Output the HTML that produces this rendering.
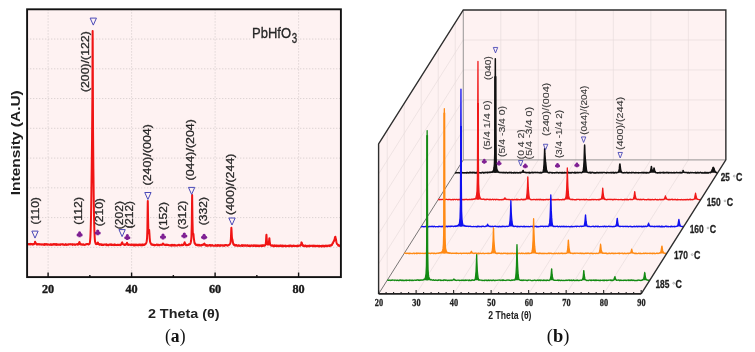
<!DOCTYPE html>
<html><head><meta charset="utf-8"><title>XRD patterns</title>
<style>html,body{margin:0;padding:0;background:#fff;}body{width:755px;height:352px;overflow:hidden;font-family:"Liberation Sans",sans-serif;}svg{display:block;will-change:transform;}</style>
</head><body>
<svg width="755" height="352" viewBox="0 0 755 352"><rect x="27.1" y="9.3" width="313.8" height="267.8" fill="#fef2f2"/>
<path d="M48.1 9.3V277.1M131.6 9.3V277.1M215.1 9.3V277.1M298.6 9.3V277.1M27.1 39.06H340.9M27.1 68.81H340.9M27.1 98.57H340.9M27.1 128.32H340.9M27.1 158.08H340.9M27.1 187.83H340.9M27.1 217.59H340.9M27.1 247.34H340.9" stroke="#cfc6c6" stroke-width="0.8" stroke-dasharray="1.2 1.8" fill="none"/>
<polyline points="28.1,244.18 28.43,244.03 28.76,244.48 29.09,243.96 29.43,244.37 29.76,244.22 30.09,243.94 30.42,244.35 30.75,243.92 31.08,244.27 31.41,243.94 31.74,243.96 32.08,244.25 32.41,244.6 32.74,243.95 33.07,244.01 33.4,244.32 33.73,244.53 34.06,244.06 34.4,243.6 34.73,243.5 35.06,241.77 35.16,242.41 35.39,242.31 35.72,243.06 36.05,243.5 36.38,243.9 36.72,244.47 37.05,243.96 37.38,244.37 37.71,244.45 38.04,244.23 38.37,244.4 38.7,243.97 39.03,243.98 39.37,244.12 39.7,244.55 40.03,244.33 40.36,244.23 40.69,244.48 41.02,244.37 41.35,244.23 41.69,244.68 42.02,244.6 42.35,244.19 42.68,244.49 43.01,244.45 43.34,244.77 43.67,244.64 44,244.25 44.34,244.87 44.67,244.1 45,244.37 45.33,244.68 45.66,244.13 45.99,244.44 46.32,244.04 46.66,244.61 46.99,244.69 47.32,244.52 47.65,244.8 47.98,244.3 48.31,244.64 48.64,244.55 48.98,244.54 49.31,244.43 49.64,244.78 49.97,244.88 50.3,244.45 50.63,244.63 50.96,244.09 51.29,244.66 51.63,244.62 51.96,244.93 52.29,244.78 52.62,244.3 52.95,244.39 53.28,244.65 53.61,244.07 53.95,244.46 54.28,244.2 54.61,244.16 54.94,244.11 55.27,244.75 55.6,244.17 55.93,244.28 56.26,244.41 56.6,244.85 56.93,244.14 57.26,244.47 57.59,244.56 57.92,244.86 58.25,244.81 58.58,244.85 58.92,244.33 59.25,244.45 59.58,244.4 59.91,244.88 60.24,244.94 60.57,244.22 60.9,244.24 61.23,244.3 61.57,244.3 61.9,244.53 62.23,244.62 62.56,244.33 62.89,244.1 63.22,244.47 63.55,244.43 63.89,244.61 64.22,244.96 64.55,244.72 64.88,244.57 65.21,244.66 65.54,244.72 65.87,244.16 66.21,244.92 66.54,244.81 66.87,244.9 67.2,244.83 67.53,244.47 67.86,244.48 68.19,244.21 68.52,244.69 68.86,244.18 69.19,244.18 69.52,244.31 69.85,244.27 70.18,244.43 70.51,244.17 70.84,244.13 71.18,244.26 71.51,244.22 71.84,244.45 72.17,244.15 72.5,244.91 72.83,244.68 73.16,244.26 73.49,244.35 73.83,244.44 74.16,244.45 74.49,244.23 74.82,244.88 75.15,245.01 75.48,244.53 75.81,244.54 76.15,244.17 76.48,244.18 76.81,244.37 77.14,244.28 77.47,244.75 77.8,244.09 78.13,243.86 78.47,244.5 78.8,243.71 79.13,242.54 79.41,242.33 79.46,241.89 79.79,243.15 80.12,244.26 80.45,244.48 80.78,244.49 81.12,244.19 81.45,244.33 81.78,244.18 82.11,244.74 82.44,244.54 82.77,244.77 83.1,244.36 83.44,244.27 83.77,244.79 84.1,244.94 84.43,244.82 84.76,244.77 85.09,244.77 85.42,244.68 85.75,244.2 86.09,244.45 86.42,244.28 86.75,243.95 87.08,243.92 87.41,244.1 87.74,244.04 88.07,244.37 88.41,244.53 88.74,243.97 89.07,244.25 89.4,244 89.73,243.29 90.06,241.08 90.39,237.07 90.73,229.12 91.06,215.02 91.39,193.93 91.72,167.83 92.05,139.17 92.38,96.92 92.52,57.76 92.61,34.41 92.65,31.06 92.71,41.46 93.04,130.42 93.38,168.72 93.71,196.58 94.04,217.32 94.37,230.42 94.7,237.51 95.03,241.57 95.36,242.67 95.7,243.7 96.03,244.11 96.36,243.68 96.69,243.67 97.02,244.02 97.35,243.48 97.68,242.59 97.78,242.53 98.01,242.77 98.35,243.98 98.68,244.26 99.01,243.88 99.34,244.62 99.67,244.84 100,244.61 100.33,244.38 100.67,244.59 101,244.24 101.33,244.16 101.66,245.04 101.99,244.77 102.32,244.67 102.65,245.05 102.99,244.61 103.32,245.02 103.65,244.99 103.98,244.44 104.31,244.49 104.64,244.53 104.97,244.49 105.3,244.81 105.64,244.52 105.97,244.67 106.3,244.41 106.63,245.12 106.96,244.62 107.29,244.72 107.62,244.84 107.96,245.13 108.29,244.7 108.62,245.15 108.95,244.78 109.28,244.81 109.61,244.81 109.94,244.36 110.27,244.74 110.61,244.51 110.94,244.35 111.27,245.07 111.6,244.51 111.93,244.78 112.26,245.01 112.59,244.86 112.93,244.66 113.26,244.83 113.59,244.87 113.92,245.08 114.25,244.47 114.58,244.88 114.91,244.6 115.24,244.63 115.58,245.07 115.91,244.84 116.24,244.88 116.57,245.06 116.9,245.2 117.23,244.78 117.56,244.93 117.9,244.83 118.23,244.83 118.56,244.98 118.89,244.76 119.22,244.82 119.55,244.75 119.88,245.13 120.22,244.86 120.55,244.94 120.88,244.85 121.21,243.94 121.54,243.56 121.87,242.92 122,242.68 122.2,242.4 122.53,243.37 122.87,244.19 123.2,244.11 123.53,244.38 123.86,244.3 124.19,244.87 124.52,244.99 124.85,245.09 125.19,244.4 125.52,244.85 125.85,244.7 126.18,244.02 126.51,244.22 126.84,243.51 127.01,242.64 127.17,243.5 127.5,243.8 127.84,244.36 128.17,245.03 128.5,245.01 128.83,244.47 129.16,244.75 129.49,244.86 129.82,244.72 130.16,244.6 130.49,244.72 130.82,245.09 131.15,244.47 131.48,244.96 131.81,244.86 132.14,244.48 132.48,244.77 132.81,245.03 133.14,244.94 133.47,244.54 133.8,245.37 134.13,245.19 134.46,245.36 134.79,244.58 135.13,244.72 135.46,244.52 135.79,245.19 136.12,244.73 136.45,244.6 136.78,244.87 137.11,245.31 137.45,245.22 137.78,244.72 138.11,244.62 138.44,245.31 138.77,244.99 139.1,245.1 139.43,244.55 139.76,244.52 140.1,245.08 140.43,244.84 140.76,244.51 141.09,245.28 141.42,245 141.75,245.13 142.08,244.47 142.42,245.15 142.75,244.42 143.08,245.11 143.41,244.7 143.74,244.56 144.07,244.7 144.4,244.96 144.74,244.28 145.07,244.03 145.4,244.22 145.73,243.7 146.06,243.19 146.39,242.56 146.72,241.18 147.05,238.37 147.39,229.64 147.72,203.77 147.8,200.91 148.05,217.87 148.38,232.5 148.71,233.33 149.04,230.31 149.14,229.88 149.37,232.99 149.71,238.07 150.04,241.54 150.37,242.76 150.7,243.17 151.03,243.87 151.36,244.57 151.69,244.01 152.02,244.79 152.36,244.54 152.69,244.68 153.02,245.04 153.35,244.69 153.68,244.84 154.01,245.03 154.34,245.32 154.68,244.77 155.01,245.23 155.34,245.13 155.67,245.08 156,244.89 156.33,244.85 156.66,244.59 157,244.67 157.33,244.62 157.66,245.23 157.99,244.8 158.32,244.72 158.65,244.65 158.98,245.33 159.31,245.36 159.65,245.17 159.98,244.82 160.31,244.77 160.64,244.8 160.97,244.92 161.3,244.59 161.63,244.76 161.97,244.44 162.3,244.76 162.63,244.29 162.91,243.66 162.96,243.39 163.29,244.44 163.62,244.29 163.95,244.6 164.28,244.42 164.62,244.85 164.95,244.98 165.28,245.04 165.61,244.79 165.94,245.08 166.27,244.65 166.6,244.89 166.94,244.74 167.27,245.03 167.6,244.71 167.93,244.7 168.26,244.96 168.59,244.9 168.92,245.22 169.25,245.18 169.59,245.38 169.92,245.3 170.25,245.35 170.58,245.5 170.91,245.06 171.24,245.01 171.57,245.6 171.91,244.85 172.24,245.37 172.57,245.3 172.9,244.77 173.23,245.48 173.56,245.53 173.89,245.3 174.23,245.39 174.56,245.46 174.89,244.86 175.22,245.21 175.55,245.19 175.88,245.49 176.21,245.46 176.54,245.48 176.88,245.26 177.21,245.54 177.54,245.35 177.87,245.36 178.2,244.94 178.53,244.76 178.86,244.85 179.2,245.06 179.53,244.82 179.86,245.48 180.19,245.22 180.52,245.28 180.85,245.27 181.18,245.31 181.51,245.13 181.85,244.67 182.18,245.36 182.51,245.28 182.84,245.01 183.17,244.95 183.5,244.91 183.83,244.07 184.17,244.02 184.5,242.59 184.62,242.28 184.83,242.81 185.16,244.19 185.49,244.25 185.82,244.97 186.15,245.29 186.49,244.92 186.82,244.84 187.15,244.93 187.48,245.1 187.81,245.15 188.14,244.97 188.47,244.94 188.8,244.36 189.14,244.31 189.47,244.26 189.8,244.5 190.13,243.79 190.46,243.53 190.79,242.18 191.12,240.54 191.46,236.7 191.79,224.31 192.12,195.18 192.14,194.91 192.45,219.61 192.78,232.46 193.11,233.91 193.39,233.97 193.44,233.92 193.77,237.78 194.11,240.19 194.44,242.67 194.77,243.62 195.1,243.39 195.43,244.16 195.76,244.74 196.09,245.05 196.43,244.71 196.76,244.64 197.09,244.67 197.42,245.39 197.75,244.77 198.08,245.15 198.41,244.78 198.75,245.15 199.08,245.56 199.41,244.84 199.74,245.47 200.07,245.21 200.4,245.55 200.73,245.39 201.06,244.97 201.4,245.57 201.73,245.19 202.06,244.76 202.39,244.7 202.72,245.09 203.05,244.95 203.38,244.63 203.72,244.13 204.05,243.83 204.24,243.68 204.38,244.21 204.71,243.93 205.04,245 205.37,245.31 205.7,244.79 206.03,245.59 206.37,245.44 206.7,245.64 207.03,245.12 207.36,245.21 207.69,245.24 208.02,245.8 208.35,245.44 208.69,245.24 209.02,245.31 209.35,245.17 209.68,244.98 210.01,245.03 210.34,245.69 210.67,245.2 211,245.79 211.34,245.18 211.67,245.2 212,245.42 212.33,245.13 212.66,245.3 212.99,245.83 213.32,245.77 213.66,245.71 213.99,245.55 214.32,245.8 214.65,245.83 214.98,245.48 215.31,245.63 215.64,245.03 215.98,245.65 216.31,245.4 216.64,245.67 216.97,245.58 217.3,245.26 217.63,245.04 217.96,245.84 218.29,245.12 218.63,245.43 218.96,245.32 219.29,245.27 219.62,245.67 219.95,245.89 220.28,245.24 220.61,245.6 220.95,245.28 221.28,245.51 221.61,245.37 221.94,245.16 222.27,245.16 222.6,245.2 222.93,245.82 223.26,245.45 223.6,245.2 223.93,245.82 224.26,245.89 224.59,245.4 224.92,245.11 225.25,245.15 225.58,245.05 225.92,245.27 226.25,245.03 226.58,245.15 226.91,245.15 227.24,245.41 227.57,245.66 227.9,245.5 228.24,245.14 228.57,245.07 228.9,245.08 229.23,244.8 229.56,244.55 229.89,243.94 230.22,243.47 230.55,242.72 230.89,238.56 231.22,230.68 231.38,227.87 231.55,230.56 231.88,237.05 232.21,239.1 232.43,239.61 232.54,240.21 232.87,242.01 233.21,243.81 233.54,244.48 233.87,244.93 234.2,244.43 234.53,244.61 234.86,245.34 235.19,245.59 235.52,245.28 235.86,245.43 236.19,244.94 236.52,245.32 236.85,245.83 237.18,245.76 237.51,245.8 237.84,245.92 238.18,245.28 238.51,245.17 238.84,245.22 239.17,245.56 239.5,245.71 239.83,245.95 240.16,245.76 240.5,245.7 240.83,245.81 241.16,245.54 241.49,245.63 241.82,245.17 242.15,245.84 242.48,245.35 242.81,245.98 243.15,245.73 243.48,245.43 243.81,245.27 244.14,245.39 244.47,245.74 244.8,245.8 245.13,245.27 245.47,245.24 245.8,245.65 246.13,245.71 246.46,245.53 246.79,245.39 247.12,245.73 247.45,245.2 247.78,245.46 248.12,245.61 248.45,246.06 248.78,245.78 249.11,246 249.44,245.63 249.77,245.42 250.1,245.43 250.44,246.08 250.77,245.85 251.1,245.49 251.43,245.24 251.76,245.67 252.09,245.83 252.42,245.6 252.76,245.46 253.09,245.83 253.42,246.06 253.75,245.43 254.08,245.26 254.41,245.54 254.74,245.61 255.07,245.85 255.41,245.42 255.74,245.96 256.07,245.91 256.4,245.7 256.73,245.43 257.06,246.12 257.39,245.52 257.73,245.98 258.06,245.45 258.39,245.44 258.72,245.93 259.05,245.51 259.38,246.1 259.71,245.69 260.04,245.41 260.38,245.44 260.71,245.61 261.04,245.83 261.37,246.08 261.7,245.35 262.03,245.57 262.36,245.39 262.7,246.07 263.03,245.3 263.36,245.19 263.69,245.17 264.02,245.42 264.35,245.8 264.68,245.67 265.01,245.34 265.35,245.21 265.68,244.31 266.01,241.44 266.34,235.22 266.45,234.75 266.67,237.96 267,242.14 267.33,244.27 267.67,244.54 268,244.66 268.33,244.45 268.66,243.66 268.99,241.58 269.32,238.28 269.38,238.21 269.65,241.37 269.99,243.35 270.32,245.13 270.65,244.88 270.98,245.23 271.31,245.77 271.64,245.85 271.97,245.56 272.3,245.25 272.64,245.66 272.97,245.59 273.3,246.1 273.63,245.46 273.96,245.63 274.29,246.12 274.62,245.34 274.96,245.69 275.29,246.06 275.62,246.03 275.95,245.38 276.28,245.38 276.61,245.41 276.94,246.18 277.27,245.59 277.61,246.04 277.94,246.18 278.27,245.68 278.6,245.62 278.93,246.24 279.26,245.94 279.59,245.62 279.93,246.03 280.26,245.67 280.59,245.64 280.92,245.4 281.25,246.08 281.58,246.23 281.91,245.97 282.25,246.25 282.58,245.43 282.91,245.62 283.24,245.84 283.57,246.28 283.9,246.28 284.23,245.77 284.56,245.65 284.9,245.81 285.23,245.87 285.56,246.26 285.89,245.59 286.22,246.15 286.55,246.1 286.88,246.18 287.22,246.13 287.55,245.99 287.88,245.74 288.21,245.73 288.54,245.77 288.87,246.15 289.2,245.52 289.53,245.63 289.87,246.13 290.2,245.68 290.53,245.51 290.86,245.49 291.19,245.96 291.52,245.75 291.85,246.34 292.19,246.26 292.52,246.35 292.85,245.7 293.18,245.54 293.51,245.55 293.84,245.92 294.17,246.11 294.51,245.87 294.84,245.68 295.17,245.84 295.5,246.03 295.83,246.07 296.16,246.14 296.49,246.23 296.82,246.06 297.16,245.56 297.49,246.21 297.82,245.71 298.15,245.94 298.48,245.75 298.81,246.06 299.14,245.54 299.48,245.54 299.81,245.47 300.14,245.26 300.47,245.7 300.8,244.98 301.13,243.81 301.46,242.37 301.61,242.62 301.79,242.66 302.13,243.91 302.46,245.28 302.79,245.54 303.12,246.05 303.45,245.37 303.78,245.78 304.11,246.13 304.45,246.19 304.78,246.28 305.11,245.51 305.44,245.75 305.77,245.6 306.1,245.68 306.43,246.39 306.77,246.04 307.1,246.36 307.43,245.87 307.76,246.31 308.09,245.94 308.42,245.78 308.75,246.25 309.08,246.4 309.42,245.65 309.75,246.09 310.08,246.12 310.41,245.76 310.74,245.89 311.07,245.69 311.4,245.75 311.74,245.8 312.07,246.11 312.4,246.16 312.73,245.76 313.06,245.59 313.39,245.87 313.72,246.19 314.05,245.75 314.39,245.86 314.72,245.77 315.05,246.3 315.38,246.08 315.71,245.64 316.04,245.68 316.37,245.95 316.71,246.09 317.04,246.17 317.37,245.67 317.7,245.74 318.03,246.22 318.36,245.96 318.69,245.85 319.02,245.87 319.36,246.45 319.69,245.87 320.02,246.1 320.35,245.91 320.68,245.97 321.01,246.37 321.34,246.49 321.68,245.92 322.01,245.76 322.34,246.24 322.67,245.77 323,245.59 323.33,246.39 323.66,245.95 324,246.31 324.33,245.93 324.66,246.35 324.99,245.97 325.32,245.69 325.65,245.55 325.98,246.02 326.31,246.09 326.65,246.32 326.98,245.57 327.31,246.03 327.64,245.79 327.97,245.89 328.3,245.54 328.63,245.63 328.97,245.81 329.3,246.12 329.63,245.33 329.96,245.61 330.29,245.81 330.62,245.85 330.95,245.02 331.28,244.78 331.62,245.28 331.95,245 332.28,244.13 332.61,243.18 332.94,243.26 333.27,241.98 333.6,241.74 333.67,241.36 333.94,241.12 334.27,239.93 334.6,239.48 334.93,237.53 335.26,236.72 335.34,237.12 335.59,237.88 335.92,239.29 336.26,241.21 336.59,242.72 336.92,243.73 337.25,244.21 337.58,244.39 337.91,244.8 338.24,245.45 338.57,245.77 338.91,245.12 339.24,245.69 339.57,245.95 339.9,245.36" fill="none" stroke="#f01414" stroke-width="2.0" stroke-linejoin="round"/>
<rect x="27.1" y="9.3" width="313.8" height="267.8" fill="none" stroke="#111" stroke-width="1.9"/>
<path d="M48.1 277.1V272.5M89.85 277.1V274.9M131.6 277.1V272.5M173.35 277.1V274.9M215.1 277.1V272.5M256.85 277.1V274.9M298.6 277.1V272.5" stroke="#111" stroke-width="1.4"/>
<text x="48.1" y="293.4" font-family="Liberation Serif" font-size="13.3" font-weight="bold" fill="#1a1a1a" text-anchor="middle" textLength="12.2" lengthAdjust="spacingAndGlyphs" stroke="#1a1a1a" stroke-width="0.4">20</text>
<text x="131.6" y="293.4" font-family="Liberation Serif" font-size="13.3" font-weight="bold" fill="#1a1a1a" text-anchor="middle" textLength="12.2" lengthAdjust="spacingAndGlyphs" stroke="#1a1a1a" stroke-width="0.4">40</text>
<text x="215.1" y="293.4" font-family="Liberation Serif" font-size="13.3" font-weight="bold" fill="#1a1a1a" text-anchor="middle" textLength="12.2" lengthAdjust="spacingAndGlyphs" stroke="#1a1a1a" stroke-width="0.4">60</text>
<text x="298.6" y="293.4" font-family="Liberation Serif" font-size="13.3" font-weight="bold" fill="#1a1a1a" text-anchor="middle" textLength="12.2" lengthAdjust="spacingAndGlyphs" stroke="#1a1a1a" stroke-width="0.4">80</text>
<text x="147.9" y="318.2" font-family="Liberation Sans" font-size="12.6" font-weight="bold" fill="#222" text-anchor="start" textLength="71.6" lengthAdjust="spacingAndGlyphs">2 Theta (θ)</text>
<text transform="translate(20.4 195.2) rotate(-90)" font-family="Liberation Sans" font-size="12.8" font-weight="bold" fill="#1e1e1e" textLength="105" lengthAdjust="spacingAndGlyphs">Intensity (A.U)</text>
<text x="165" y="342" font-family="Liberation Serif" font-size="18.5" fill="#111" textLength="20.5" lengthAdjust="spacingAndGlyphs">(<tspan font-weight="bold">a</tspan>)</text>
<rect x="251.5" y="26" width="46" height="17.5" fill="#fef2f2"/>
<text x="252" y="38.3" font-family="Liberation Sans" font-size="14.4" font-weight="normal" fill="#262626" text-anchor="start" textLength="39" lengthAdjust="spacingAndGlyphs" stroke="#262626" stroke-width="0.3">PbHfO</text>
<text x="291.8" y="42.8" font-family="Liberation Sans" font-size="14.2" font-weight="normal" fill="#262626" text-anchor="start" textLength="5.4" lengthAdjust="spacingAndGlyphs" stroke="#262626" stroke-width="0.3">3</text>
<text transform="translate(38.7 224.4) rotate(-90)" font-family="Liberation Sans" font-size="10" font-weight="normal" fill="#262626" stroke="#262626" stroke-width="0.25" textLength="27.3" lengthAdjust="spacingAndGlyphs">(110)</text>
<text transform="translate(82.2 224.8) rotate(-90)" font-family="Liberation Sans" font-size="10" font-weight="normal" fill="#262626" stroke="#262626" stroke-width="0.25" textLength="27.8" lengthAdjust="spacingAndGlyphs">(112)</text>
<text transform="translate(88.5 92.1) rotate(-90)" font-family="Liberation Sans" font-size="10" font-weight="normal" fill="#262626" stroke="#262626" stroke-width="0.25" textLength="60.9" lengthAdjust="spacingAndGlyphs">(200)/(122)</text>
<text transform="translate(102.9 226.3) rotate(-90)" font-family="Liberation Sans" font-size="10" font-weight="normal" fill="#262626" stroke="#262626" stroke-width="0.25" textLength="28.2" lengthAdjust="spacingAndGlyphs">(210)</text>
<text transform="translate(122.8 229.2) rotate(-90)" font-family="Liberation Sans" font-size="10" font-weight="normal" fill="#262626" stroke="#262626" stroke-width="0.25" textLength="28.1" lengthAdjust="spacingAndGlyphs">(202)</text>
<text transform="translate(132.8 228.6) rotate(-90)" font-family="Liberation Sans" font-size="10" font-weight="normal" fill="#262626" stroke="#262626" stroke-width="0.25" textLength="27.5" lengthAdjust="spacingAndGlyphs">(212)</text>
<text transform="translate(150.6 185.5) rotate(-90)" font-family="Liberation Sans" font-size="10" font-weight="normal" fill="#262626" stroke="#262626" stroke-width="0.25" textLength="61.4" lengthAdjust="spacingAndGlyphs">(240)/(004)</text>
<text transform="translate(167.2 230) rotate(-90)" font-family="Liberation Sans" font-size="10" font-weight="normal" fill="#262626" stroke="#262626" stroke-width="0.25" textLength="27.9" lengthAdjust="spacingAndGlyphs">(152)</text>
<text transform="translate(186.4 229.3) rotate(-90)" font-family="Liberation Sans" font-size="10" font-weight="normal" fill="#262626" stroke="#262626" stroke-width="0.25" textLength="28.6" lengthAdjust="spacingAndGlyphs">(312)</text>
<text transform="translate(193.7 180.5) rotate(-90)" font-family="Liberation Sans" font-size="10" font-weight="normal" fill="#262626" stroke="#262626" stroke-width="0.25" textLength="61.4" lengthAdjust="spacingAndGlyphs">(044)/(204)</text>
<text transform="translate(206.6 225.2) rotate(-90)" font-family="Liberation Sans" font-size="10" font-weight="normal" fill="#262626" stroke="#262626" stroke-width="0.25" textLength="28.1" lengthAdjust="spacingAndGlyphs">(332)</text>
<text transform="translate(234.1 215) rotate(-90)" font-family="Liberation Sans" font-size="10" font-weight="normal" fill="#262626" stroke="#262626" stroke-width="0.25" textLength="61.5" lengthAdjust="spacingAndGlyphs">(400)/(244)</text>
<path d="M31.85 231.1L38.15 231.1L35 238.1Z" fill="none" stroke="#4a4ab8" stroke-width="1.0"/>
<path d="M90.15 18.1L96.45 18.1L93.3 25.1Z" fill="none" stroke="#4a4ab8" stroke-width="1.0"/>
<path d="M118.95 229.6L125.25 229.6L122.1 236.6Z" fill="none" stroke="#4a4ab8" stroke-width="1.0"/>
<path d="M144.75 192.5L151.05 192.5L147.9 199.5Z" fill="none" stroke="#4a4ab8" stroke-width="1.0"/>
<path d="M188.45 187.4L194.75 187.4L191.6 194.4Z" fill="none" stroke="#4a4ab8" stroke-width="1.0"/>
<path d="M228.85 218L235.15 218L232 225Z" fill="none" stroke="#4a4ab8" stroke-width="1.0"/>
<g fill="#7e1e92"><circle cx="79.6" cy="232.88" r="1.56"/><circle cx="78.1" cy="234.92" r="1.56"/><circle cx="81.1" cy="234.92" r="1.56"/><path d="M79.1 234.2L80.1 234.2L80.92 237.2L78.28 237.2Z"/></g>
<g fill="#7e1e92"><circle cx="97.7" cy="230.98" r="1.56"/><circle cx="96.2" cy="233.02" r="1.56"/><circle cx="99.2" cy="233.02" r="1.56"/><path d="M97.2 232.3L98.2 232.3L99.02 235.3L96.38 235.3Z"/></g>
<g fill="#7e1e92"><circle cx="127.3" cy="235.68" r="1.56"/><circle cx="125.8" cy="237.72" r="1.56"/><circle cx="128.8" cy="237.72" r="1.56"/><path d="M126.8 237L127.8 237L128.62 240L125.98 240Z"/></g>
<g fill="#7e1e92"><circle cx="163" cy="235.08" r="1.56"/><circle cx="161.5" cy="237.12" r="1.56"/><circle cx="164.5" cy="237.12" r="1.56"/><path d="M162.5 236.4L163.5 236.4L164.32 239.4L161.68 239.4Z"/></g>
<g fill="#7e1e92"><circle cx="184.3" cy="233.98" r="1.56"/><circle cx="182.8" cy="236.02" r="1.56"/><circle cx="185.8" cy="236.02" r="1.56"/><path d="M183.8 235.3L184.8 235.3L185.62 238.3L182.98 238.3Z"/></g>
<g fill="#7e1e92"><circle cx="204.1" cy="235.28" r="1.56"/><circle cx="202.6" cy="237.32" r="1.56"/><circle cx="205.6" cy="237.32" r="1.56"/><path d="M203.6 236.6L204.6 236.6L205.42 239.6L202.78 239.6Z"/></g>
<polygon points="378.6,144 463.29,10 725.86,10 725.86,159.9 641.17,293.9 378.6,293.9" fill="#fef2f2"/>
<path d="M500.8 10.0V159.9M538.31 10.0V159.9M575.82 10.0V159.9M613.33 10.0V159.9M650.84 10.0V159.9M688.35 10.0V159.9M463.29 39.98H725.86M463.29 69.96H725.86M463.29 99.94H725.86M463.29 129.92H725.86M416.11 293.9L500.8 159.9M453.62 293.9L538.31 159.9M491.13 293.9L575.82 159.9M528.64 293.9L613.33 159.9M566.15 293.9L650.84 159.9M603.66 293.9L688.35 159.9M463.29 39.98L378.6 173.98M463.29 69.96L378.6 203.96M463.29 99.94L378.6 233.94M463.29 129.92L378.6 263.92M387.2 130.4V280.3M404.2 103.5V253.4M421.2 76.6V226.5M438.2 49.7V199.6M455.2 22.8V172.7" stroke="#e8dcdc" stroke-width="0.7" fill="none"/>
<path d="M463.29 10.0V159.9H725.86" stroke="#8a8a8a" stroke-width="0.9" fill="none"/>
<path d="M378.6 293.9L463.29 159.9" stroke="#555" stroke-width="0.8" fill="none"/>
<polygon points="455.2,172.46 455.6,172.96 456,172.62 456.4,172.66 456.8,172.6 457.2,172.83 457.6,172.75 458,172.64 458.4,172.75 458.8,172.58 459.2,172.73 459.6,172.74 460,173.03 460.4,172.61 460.8,172.7 461.2,172.88 461.6,172.51 462,172.5 462.4,172.72 462.8,172.92 463.2,172.71 463.6,172.97 464,172.95 464.4,172.74 464.8,172.98 465.2,172.73 465.61,172.68 466.01,173.01 466.41,172.59 466.81,172.98 467.21,172.52 467.61,172.49 468.01,172.68 468.41,173 468.81,172.68 469.21,172.77 469.61,172.37 470.01,172.94 470.41,172.44 470.81,172.34 471.21,172.52 471.61,172.46 472.01,172.9 472.41,172.35 472.81,172.69 473.21,172.36 473.61,172.39 474.01,172.91 474.41,172.48 474.81,172.38 475.21,172.98 475.61,172.78 476.01,172.5 476.41,172.91 476.81,172.4 477.21,172.83 477.61,172.45 478.01,172.92 478.41,172.67 478.81,172.37 479.21,172.87 479.61,172.83 480.01,172.66 480.41,172.79 480.81,172.98 481.22,172.88 481.62,172.89 482.02,172.34 482.42,172.52 482.82,172.37 483.22,172.87 483.62,172.44 484.02,172.9 484.42,172.6 484.82,172.53 485.22,172.71 485.62,172.35 486.02,172.56 486.42,172.53 486.82,172.31 487.22,172.84 487.62,172.21 488.02,172.45 488.42,172.59 488.82,172.29 489.22,172.63 489.62,172.09 490.02,172.34 490.42,172.44 490.82,172.09 491.22,172.23 491.62,172.31 492.02,171.76 492.42,172.03 492.82,171.16 493.22,171.05 493.62,169.91 494.02,168 494.42,164.45 494.82,151.81 495.22,79.79 495.33,58.65 495.62,128.23 496.02,160.03 496.43,166.6 496.83,169.28 497.23,170.45 497.63,170.86 498.03,171.81 498.43,172.01 498.83,171.9 499.23,172.47 499.63,172.58 500.03,172.41 500.43,172.64 500.83,172.51 501.23,172.64 501.63,172.42 502.03,172.44 502.43,172.73 502.83,172.46 503.23,172.58 503.63,172.83 504.03,172.28 504.43,172.77 504.83,172.85 505.23,172.89 505.63,172.52 506.03,172.36 506.43,172.43 506.83,172.7 507.23,172.8 507.63,172.98 508.03,172.54 508.43,172.6 508.83,172.75 509.23,172.55 509.63,172.69 510.03,172.35 510.43,172.49 510.83,172.83 511.23,172.38 511.63,172.98 512.04,172.64 512.44,172.73 512.84,172.85 513.24,172.97 513.64,172.47 514.04,173.01 514.44,172.63 514.84,172.36 515.24,172.92 515.64,172.88 516.04,172.59 516.44,172.66 516.84,172.57 517.24,172.44 517.64,172.89 518.04,172.79 518.44,172.8 518.84,172.97 519.24,172.38 519.64,172.44 520.04,172.48 520.44,172.96 520.84,172.35 521.24,172.37 521.64,172.49 522.04,172.13 522.44,171.91 522.84,170.96 523.09,170.46 523.24,170.62 523.64,172.01 524.04,172.34 524.44,172.26 524.84,172.39 525.24,172.34 525.64,172.46 526.04,172.79 526.44,172.6 526.84,172.69 527.25,172.45 527.65,172.64 528.05,172.83 528.45,172.57 528.85,172.34 529.25,172.87 529.65,172.41 530.05,173.01 530.45,172.84 530.85,172.86 531.25,172.5 531.65,172.36 532.05,172.5 532.45,172.8 532.85,172.41 533.25,172.79 533.65,172.86 534.05,172.39 534.45,172.58 534.85,172.54 535.25,172.56 535.65,172.33 536.05,172.69 536.45,172.43 536.85,172.53 537.25,172.41 537.65,172.7 538.05,172.5 538.45,172.6 538.85,172.78 539.25,172.84 539.65,172.54 540.05,172.91 540.45,172.32 540.85,172.84 541.25,172.9 541.65,172.81 542.05,172.17 542.45,172.45 542.86,172.2 543.26,171.24 543.66,168.93 544.06,164.25 544.46,155 544.66,148.81 544.77,150.44 544.86,153.42 545.26,159.36 545.6,161.97 545.66,162.19 545.71,162.71 546.06,166.31 546.46,169.89 546.86,170.94 547.26,171.69 547.66,172 548.06,172.73 548.46,172.72 548.86,172.83 549.26,172.91 549.66,172.36 550.06,172.4 550.46,172.53 550.86,172.41 551.26,172.55 551.66,172.8 552.06,172.94 552.46,172.94 552.86,172.48 553.26,172.87 553.66,172.8 554.06,172.72 554.46,173.01 554.86,172.84 555.26,172.83 555.66,172.53 556.06,172.77 556.46,172.81 556.86,172.36 557.26,172.68 557.66,172.44 558.07,172.6 558.47,173.01 558.87,172.75 559.27,172.73 559.67,172.49 560.07,172.79 560.47,172.54 560.87,172.66 561.27,172.88 561.67,172.43 562.07,172.97 562.47,172.46 562.87,172.92 563.27,173.04 563.67,172.9 564.07,172.5 564.47,172.35 564.87,173.03 565.27,172.69 565.67,172.69 566.07,172.48 566.47,172.91 566.87,172.69 567.27,172.79 567.67,172.45 568.07,172.85 568.47,172.38 568.87,172.84 569.27,172.89 569.67,172.55 570.07,172.69 570.47,172.96 570.87,172.59 571.27,172.98 571.67,172.48 572.07,172.55 572.47,172.48 572.87,172.59 573.27,172.78 573.68,172.75 574.08,172.75 574.48,172.4 574.88,172.97 575.28,172.4 575.68,173 576.08,172.88 576.48,172.83 576.88,172.38 577.28,172.66 577.68,172.74 578.08,172.38 578.48,172.83 578.88,172.67 579.28,172.61 579.68,172.45 580.08,172.43 580.48,172.49 580.88,172.68 581.28,172.67 581.68,172.75 582.08,172.19 582.48,172.12 582.88,171.51 583.28,170.46 583.68,167.18 584.08,161.35 584.48,148.39 584.61,145.03 584.72,146.82 584.88,152.05 585.28,158.56 585.55,160.99 585.66,162.16 585.68,162.17 586.08,166.66 586.48,170.08 586.88,171.59 587.28,172.22 587.68,172.45 588.08,172.44 588.48,172.75 588.88,172.67 589.29,172.8 589.69,172.27 590.09,172.46 590.49,172.91 590.89,172.31 591.29,172.92 591.69,172.73 592.09,172.32 592.49,172.45 592.89,172.5 593.29,172.71 593.69,172.88 594.09,172.58 594.49,172.95 594.89,172.88 595.29,172.76 595.69,173.01 596.09,172.75 596.49,172.48 596.89,172.55 597.29,172.68 597.69,172.59 598.09,172.71 598.49,172.94 598.89,172.61 599.29,172.75 599.69,172.52 600.09,172.4 600.49,172.74 600.89,172.64 601.29,172.51 601.69,172.74 602.09,172.88 602.49,172.53 602.89,172.42 603.29,172.5 603.69,172.55 604.09,172.44 604.5,172.56 604.9,172.59 605.3,172.72 605.7,172.82 606.1,172.6 606.5,172.97 606.9,172.75 607.3,172.49 607.7,172.54 608.1,172.6 608.5,172.86 608.9,172.74 609.3,172.72 609.7,172.6 610.1,172.75 610.5,172.57 610.9,172.39 611.3,172.91 611.7,172.58 612.1,172.49 612.5,172.76 612.9,172.69 613.3,172.35 613.7,173 614.1,172.65 614.5,172.91 614.9,172.47 615.3,172.36 615.7,172.65 616.1,172.93 616.5,172.59 616.9,172.6 617.3,172.45 617.7,172.52 618.1,172.25 618.5,171.63 618.9,170.8 619.3,168.93 619.7,164.63 619.87,163.94 619.98,164.11 620.11,165.61 620.51,168.52 620.91,170.76 621.31,171.32 621.71,172.37 622.11,172.82 622.51,172.76 622.91,172.7 623.31,172.99 623.71,172.71 624.11,172.72 624.51,172.53 624.91,172.78 625.31,172.84 625.71,172.87 626.11,172.51 626.51,172.37 626.91,172.67 627.31,172.88 627.71,172.48 628.11,172.76 628.51,172.89 628.91,172.95 629.31,172.5 629.71,172.47 630.11,172.6 630.51,172.71 630.91,172.65 631.31,172.88 631.71,172.37 632.11,172.8 632.51,172.6 632.91,172.47 633.31,172.47 633.71,172.72 634.11,172.84 634.51,172.66 634.91,172.96 635.32,172.46 635.72,172.79 636.12,172.45 636.52,172.86 636.92,172.78 637.32,172.87 637.72,172.74 638.12,172.91 638.52,173.04 638.92,172.54 639.32,172.85 639.72,172.87 640.12,172.83 640.52,172.71 640.92,172.74 641.32,172.59 641.72,172.58 642.12,172.79 642.52,172.39 642.92,172.44 643.32,173 643.72,172.46 644.12,172.4 644.52,172.49 644.92,172.93 645.32,172.45 645.72,172.59 646.12,173.02 646.52,173.02 646.92,172.35 647.32,172.56 647.72,172.83 648.12,172.93 648.52,172.88 648.92,172.8 649.32,172.35 649.72,172.49 650.12,172.21 650.52,170.84 650.93,169.35 651.33,167.01 651.38,166.39 651.49,166.92 651.73,168.4 652.13,170.14 652.53,170.86 652.93,171.14 653.33,170.56 653.73,169.48 654,168.02 654.11,168.34 654.13,168.24 654.53,170.24 654.93,171.02 655.33,171.95 655.73,172.54 656.13,172.74 656.53,172.87 656.93,172.64 657.33,172.96 657.73,172.68 658.13,172.92 658.53,172.68 658.93,172.68 659.33,172.65 659.73,172.43 660.13,173.03 660.53,172.45 660.93,172.71 661.33,172.64 661.73,172.57 662.13,172.45 662.53,172.78 662.93,172.75 663.33,172.37 663.73,172.99 664.13,172.6 664.53,172.6 664.93,173.02 665.33,172.62 665.73,172.57 666.13,172.39 666.54,172.81 666.94,172.36 667.34,172.69 667.74,172.7 668.14,172.42 668.54,173.02 668.94,172.54 669.34,172.61 669.74,172.81 670.14,172.44 670.54,172.79 670.94,172.71 671.34,172.68 671.74,172.51 672.14,172.9 672.54,172.74 672.94,172.75 673.34,172.66 673.74,172.47 674.14,172.84 674.54,172.46 674.94,172.76 675.34,172.69 675.74,172.85 676.14,172.69 676.54,172.36 676.94,172.58 677.34,172.49 677.74,172.81 678.14,172.81 678.54,172.83 678.94,172.62 679.34,172.58 679.74,172.47 680.14,172.99 680.54,172.5 680.94,172.37 681.34,172.58 681.75,172.87 682.15,172.57 682.55,172.43 682.95,171.23 683.11,170.4 683.35,171.19 683.75,172.07 684.15,172.26 684.55,172.28 684.95,172.54 685.35,172.56 685.75,172.57 686.15,172.53 686.55,172.61 686.95,172.55 687.35,172.88 687.75,172.57 688.15,172.72 688.55,172.51 688.95,172.97 689.35,172.91 689.75,173.02 690.15,172.5 690.55,172.4 690.95,172.59 691.35,172.79 691.75,172.47 692.15,172.49 692.55,172.65 692.95,172.87 693.35,172.83 693.75,172.75 694.15,172.82 694.55,172.75 694.95,172.6 695.35,172.39 695.75,173.01 696.15,172.65 696.55,173.02 696.95,172.96 697.36,172.48 697.76,172.65 698.16,172.4 698.56,172.74 698.96,173.04 699.36,172.78 699.76,172.63 700.16,172.39 700.56,172.36 700.96,172.72 701.36,172.76 701.76,172.98 702.16,172.6 702.56,172.9 702.96,172.94 703.36,173.04 703.76,173.05 704.16,172.57 704.56,172.96 704.96,172.37 705.36,172.99 705.76,172.44 706.16,172.96 706.56,173.04 706.96,172.55 707.36,172.88 707.76,172.54 708.16,172.92 708.56,173.01 708.96,172.5 709.36,172.53 709.76,172.39 710.16,172.4 710.56,172.7 710.96,172.04 711.36,171.54 711.76,171.03 712.16,169.74 712.57,169.06 712.97,167.56 713.27,167.37 713.37,167.85 713.38,167.85 713.77,167.89 714.17,168.88 714.57,170.6 714.97,171.39 715.37,171.74 715.77,172.51 716.17,172.24 716.57,172.62 716.97,172.97 717.37,172.78 717.77,172.64 717.77,172.7 455.2,172.7" fill="#111111" stroke="none"/>
<polyline points="455.2,172.46 455.6,172.96 456,172.62 456.4,172.66 456.8,172.6 457.2,172.83 457.6,172.75 458,172.64 458.4,172.75 458.8,172.58 459.2,172.73 459.6,172.74 460,173.03 460.4,172.61 460.8,172.7 461.2,172.88 461.6,172.51 462,172.5 462.4,172.72 462.8,172.92 463.2,172.71 463.6,172.97 464,172.95 464.4,172.74 464.8,172.98 465.2,172.73 465.61,172.68 466.01,173.01 466.41,172.59 466.81,172.98 467.21,172.52 467.61,172.49 468.01,172.68 468.41,173 468.81,172.68 469.21,172.77 469.61,172.37 470.01,172.94 470.41,172.44 470.81,172.34 471.21,172.52 471.61,172.46 472.01,172.9 472.41,172.35 472.81,172.69 473.21,172.36 473.61,172.39 474.01,172.91 474.41,172.48 474.81,172.38 475.21,172.98 475.61,172.78 476.01,172.5 476.41,172.91 476.81,172.4 477.21,172.83 477.61,172.45 478.01,172.92 478.41,172.67 478.81,172.37 479.21,172.87 479.61,172.83 480.01,172.66 480.41,172.79 480.81,172.98 481.22,172.88 481.62,172.89 482.02,172.34 482.42,172.52 482.82,172.37 483.22,172.87 483.62,172.44 484.02,172.9 484.42,172.6 484.82,172.53 485.22,172.71 485.62,172.35 486.02,172.56 486.42,172.53 486.82,172.31 487.22,172.84 487.62,172.21 488.02,172.45 488.42,172.59 488.82,172.29 489.22,172.63 489.62,172.09 490.02,172.34 490.42,172.44 490.82,172.09 491.22,172.23 491.62,172.31 492.02,171.76 492.42,172.03 492.82,171.16 493.22,171.05 493.62,169.91 494.02,168 494.42,164.45 494.82,151.81 495.22,79.79 495.33,58.65 495.62,128.23 496.02,160.03 496.43,166.6 496.83,169.28 497.23,170.45 497.63,170.86 498.03,171.81 498.43,172.01 498.83,171.9 499.23,172.47 499.63,172.58 500.03,172.41 500.43,172.64 500.83,172.51 501.23,172.64 501.63,172.42 502.03,172.44 502.43,172.73 502.83,172.46 503.23,172.58 503.63,172.83 504.03,172.28 504.43,172.77 504.83,172.85 505.23,172.89 505.63,172.52 506.03,172.36 506.43,172.43 506.83,172.7 507.23,172.8 507.63,172.98 508.03,172.54 508.43,172.6 508.83,172.75 509.23,172.55 509.63,172.69 510.03,172.35 510.43,172.49 510.83,172.83 511.23,172.38 511.63,172.98 512.04,172.64 512.44,172.73 512.84,172.85 513.24,172.97 513.64,172.47 514.04,173.01 514.44,172.63 514.84,172.36 515.24,172.92 515.64,172.88 516.04,172.59 516.44,172.66 516.84,172.57 517.24,172.44 517.64,172.89 518.04,172.79 518.44,172.8 518.84,172.97 519.24,172.38 519.64,172.44 520.04,172.48 520.44,172.96 520.84,172.35 521.24,172.37 521.64,172.49 522.04,172.13 522.44,171.91 522.84,170.96 523.09,170.46 523.24,170.62 523.64,172.01 524.04,172.34 524.44,172.26 524.84,172.39 525.24,172.34 525.64,172.46 526.04,172.79 526.44,172.6 526.84,172.69 527.25,172.45 527.65,172.64 528.05,172.83 528.45,172.57 528.85,172.34 529.25,172.87 529.65,172.41 530.05,173.01 530.45,172.84 530.85,172.86 531.25,172.5 531.65,172.36 532.05,172.5 532.45,172.8 532.85,172.41 533.25,172.79 533.65,172.86 534.05,172.39 534.45,172.58 534.85,172.54 535.25,172.56 535.65,172.33 536.05,172.69 536.45,172.43 536.85,172.53 537.25,172.41 537.65,172.7 538.05,172.5 538.45,172.6 538.85,172.78 539.25,172.84 539.65,172.54 540.05,172.91 540.45,172.32 540.85,172.84 541.25,172.9 541.65,172.81 542.05,172.17 542.45,172.45 542.86,172.2 543.26,171.24 543.66,168.93 544.06,164.25 544.46,155 544.66,148.81 544.77,150.44 544.86,153.42 545.26,159.36 545.6,161.97 545.66,162.19 545.71,162.71 546.06,166.31 546.46,169.89 546.86,170.94 547.26,171.69 547.66,172 548.06,172.73 548.46,172.72 548.86,172.83 549.26,172.91 549.66,172.36 550.06,172.4 550.46,172.53 550.86,172.41 551.26,172.55 551.66,172.8 552.06,172.94 552.46,172.94 552.86,172.48 553.26,172.87 553.66,172.8 554.06,172.72 554.46,173.01 554.86,172.84 555.26,172.83 555.66,172.53 556.06,172.77 556.46,172.81 556.86,172.36 557.26,172.68 557.66,172.44 558.07,172.6 558.47,173.01 558.87,172.75 559.27,172.73 559.67,172.49 560.07,172.79 560.47,172.54 560.87,172.66 561.27,172.88 561.67,172.43 562.07,172.97 562.47,172.46 562.87,172.92 563.27,173.04 563.67,172.9 564.07,172.5 564.47,172.35 564.87,173.03 565.27,172.69 565.67,172.69 566.07,172.48 566.47,172.91 566.87,172.69 567.27,172.79 567.67,172.45 568.07,172.85 568.47,172.38 568.87,172.84 569.27,172.89 569.67,172.55 570.07,172.69 570.47,172.96 570.87,172.59 571.27,172.98 571.67,172.48 572.07,172.55 572.47,172.48 572.87,172.59 573.27,172.78 573.68,172.75 574.08,172.75 574.48,172.4 574.88,172.97 575.28,172.4 575.68,173 576.08,172.88 576.48,172.83 576.88,172.38 577.28,172.66 577.68,172.74 578.08,172.38 578.48,172.83 578.88,172.67 579.28,172.61 579.68,172.45 580.08,172.43 580.48,172.49 580.88,172.68 581.28,172.67 581.68,172.75 582.08,172.19 582.48,172.12 582.88,171.51 583.28,170.46 583.68,167.18 584.08,161.35 584.48,148.39 584.61,145.03 584.72,146.82 584.88,152.05 585.28,158.56 585.55,160.99 585.66,162.16 585.68,162.17 586.08,166.66 586.48,170.08 586.88,171.59 587.28,172.22 587.68,172.45 588.08,172.44 588.48,172.75 588.88,172.67 589.29,172.8 589.69,172.27 590.09,172.46 590.49,172.91 590.89,172.31 591.29,172.92 591.69,172.73 592.09,172.32 592.49,172.45 592.89,172.5 593.29,172.71 593.69,172.88 594.09,172.58 594.49,172.95 594.89,172.88 595.29,172.76 595.69,173.01 596.09,172.75 596.49,172.48 596.89,172.55 597.29,172.68 597.69,172.59 598.09,172.71 598.49,172.94 598.89,172.61 599.29,172.75 599.69,172.52 600.09,172.4 600.49,172.74 600.89,172.64 601.29,172.51 601.69,172.74 602.09,172.88 602.49,172.53 602.89,172.42 603.29,172.5 603.69,172.55 604.09,172.44 604.5,172.56 604.9,172.59 605.3,172.72 605.7,172.82 606.1,172.6 606.5,172.97 606.9,172.75 607.3,172.49 607.7,172.54 608.1,172.6 608.5,172.86 608.9,172.74 609.3,172.72 609.7,172.6 610.1,172.75 610.5,172.57 610.9,172.39 611.3,172.91 611.7,172.58 612.1,172.49 612.5,172.76 612.9,172.69 613.3,172.35 613.7,173 614.1,172.65 614.5,172.91 614.9,172.47 615.3,172.36 615.7,172.65 616.1,172.93 616.5,172.59 616.9,172.6 617.3,172.45 617.7,172.52 618.1,172.25 618.5,171.63 618.9,170.8 619.3,168.93 619.7,164.63 619.87,163.94 619.98,164.11 620.11,165.61 620.51,168.52 620.91,170.76 621.31,171.32 621.71,172.37 622.11,172.82 622.51,172.76 622.91,172.7 623.31,172.99 623.71,172.71 624.11,172.72 624.51,172.53 624.91,172.78 625.31,172.84 625.71,172.87 626.11,172.51 626.51,172.37 626.91,172.67 627.31,172.88 627.71,172.48 628.11,172.76 628.51,172.89 628.91,172.95 629.31,172.5 629.71,172.47 630.11,172.6 630.51,172.71 630.91,172.65 631.31,172.88 631.71,172.37 632.11,172.8 632.51,172.6 632.91,172.47 633.31,172.47 633.71,172.72 634.11,172.84 634.51,172.66 634.91,172.96 635.32,172.46 635.72,172.79 636.12,172.45 636.52,172.86 636.92,172.78 637.32,172.87 637.72,172.74 638.12,172.91 638.52,173.04 638.92,172.54 639.32,172.85 639.72,172.87 640.12,172.83 640.52,172.71 640.92,172.74 641.32,172.59 641.72,172.58 642.12,172.79 642.52,172.39 642.92,172.44 643.32,173 643.72,172.46 644.12,172.4 644.52,172.49 644.92,172.93 645.32,172.45 645.72,172.59 646.12,173.02 646.52,173.02 646.92,172.35 647.32,172.56 647.72,172.83 648.12,172.93 648.52,172.88 648.92,172.8 649.32,172.35 649.72,172.49 650.12,172.21 650.52,170.84 650.93,169.35 651.33,167.01 651.38,166.39 651.49,166.92 651.73,168.4 652.13,170.14 652.53,170.86 652.93,171.14 653.33,170.56 653.73,169.48 654,168.02 654.11,168.34 654.13,168.24 654.53,170.24 654.93,171.02 655.33,171.95 655.73,172.54 656.13,172.74 656.53,172.87 656.93,172.64 657.33,172.96 657.73,172.68 658.13,172.92 658.53,172.68 658.93,172.68 659.33,172.65 659.73,172.43 660.13,173.03 660.53,172.45 660.93,172.71 661.33,172.64 661.73,172.57 662.13,172.45 662.53,172.78 662.93,172.75 663.33,172.37 663.73,172.99 664.13,172.6 664.53,172.6 664.93,173.02 665.33,172.62 665.73,172.57 666.13,172.39 666.54,172.81 666.94,172.36 667.34,172.69 667.74,172.7 668.14,172.42 668.54,173.02 668.94,172.54 669.34,172.61 669.74,172.81 670.14,172.44 670.54,172.79 670.94,172.71 671.34,172.68 671.74,172.51 672.14,172.9 672.54,172.74 672.94,172.75 673.34,172.66 673.74,172.47 674.14,172.84 674.54,172.46 674.94,172.76 675.34,172.69 675.74,172.85 676.14,172.69 676.54,172.36 676.94,172.58 677.34,172.49 677.74,172.81 678.14,172.81 678.54,172.83 678.94,172.62 679.34,172.58 679.74,172.47 680.14,172.99 680.54,172.5 680.94,172.37 681.34,172.58 681.75,172.87 682.15,172.57 682.55,172.43 682.95,171.23 683.11,170.4 683.35,171.19 683.75,172.07 684.15,172.26 684.55,172.28 684.95,172.54 685.35,172.56 685.75,172.57 686.15,172.53 686.55,172.61 686.95,172.55 687.35,172.88 687.75,172.57 688.15,172.72 688.55,172.51 688.95,172.97 689.35,172.91 689.75,173.02 690.15,172.5 690.55,172.4 690.95,172.59 691.35,172.79 691.75,172.47 692.15,172.49 692.55,172.65 692.95,172.87 693.35,172.83 693.75,172.75 694.15,172.82 694.55,172.75 694.95,172.6 695.35,172.39 695.75,173.01 696.15,172.65 696.55,173.02 696.95,172.96 697.36,172.48 697.76,172.65 698.16,172.4 698.56,172.74 698.96,173.04 699.36,172.78 699.76,172.63 700.16,172.39 700.56,172.36 700.96,172.72 701.36,172.76 701.76,172.98 702.16,172.6 702.56,172.9 702.96,172.94 703.36,173.04 703.76,173.05 704.16,172.57 704.56,172.96 704.96,172.37 705.36,172.99 705.76,172.44 706.16,172.96 706.56,173.04 706.96,172.55 707.36,172.88 707.76,172.54 708.16,172.92 708.56,173.01 708.96,172.5 709.36,172.53 709.76,172.39 710.16,172.4 710.56,172.7 710.96,172.04 711.36,171.54 711.76,171.03 712.16,169.74 712.57,169.06 712.97,167.56 713.27,167.37 713.37,167.85 713.38,167.85 713.77,167.89 714.17,168.88 714.57,170.6 714.97,171.39 715.37,171.74 715.77,172.51 716.17,172.24 716.57,172.62 716.97,172.97 717.37,172.78 717.77,172.64" fill="none" stroke="#111111" stroke-width="1.5" stroke-linejoin="round"/>
<path d="M495.33 172.7V76.31" stroke="#111111" stroke-width="2.3"/>
<polygon points="438.2,199.64 438.6,199.47 439,199.84 439.4,199.39 439.8,199.69 440.2,199.49 440.6,199.5 441,199.65 441.4,199.67 441.8,199.39 442.2,199.28 442.6,199.39 443,199.55 443.4,199.74 443.8,199.9 444.2,199.26 444.6,199.45 445,199.36 445.4,199.71 445.8,199.52 446.2,199.26 446.6,199.36 447,199.52 447.4,199.72 447.8,199.64 448.2,199.32 448.6,199.68 449,199.46 449.4,199.52 449.81,199.31 450.21,199.37 450.61,199.74 451.01,199.94 451.41,199.75 451.81,199.64 452.21,199.53 452.61,199.36 453.01,199.31 453.41,199.9 453.81,199.35 454.21,199.37 454.61,199.33 455.01,199.53 455.41,199.74 455.81,199.34 456.21,199.37 456.61,199.45 457.01,199.29 457.41,199.69 457.81,199.87 458.21,199.54 458.61,199.37 459.01,199.78 459.41,199.4 459.81,199.27 460.21,199.76 460.61,199.49 461.01,199.44 461.41,199.59 461.81,199.77 462.21,199.73 462.61,199.39 463.01,199.35 463.41,199.58 463.81,199.84 464.21,199.34 464.61,199.36 465.01,199.73 465.42,199.49 465.82,199.26 466.22,199.26 466.62,199.51 467.02,199.54 467.42,199.46 467.82,199.73 468.22,199.72 468.62,199.72 469.02,199.35 469.42,199.57 469.82,199.42 470.22,199.52 470.62,199.42 471.02,199.66 471.42,199.71 471.82,199.01 472.22,199.41 472.62,199.56 473.02,199.14 473.42,198.96 473.82,199.32 474.22,198.89 474.62,198.91 475.02,198.56 475.42,198.58 475.82,198.04 476.22,196.45 476.62,194.78 477.02,190.95 477.42,177.32 477.82,97.72 477.96,61.5 478.22,140.68 478.62,183.73 479.02,192.54 479.42,195.53 479.82,196.83 480.22,198.08 480.63,198.69 481.03,198.87 481.43,199.08 481.83,199.29 482.23,199.42 482.63,199.15 483.03,198.99 483.43,199.33 483.83,199.02 484.23,199.08 484.63,199.7 485.03,199.35 485.43,199.51 485.83,199.72 486.23,199.14 486.63,199.65 487.03,199.44 487.43,199.4 487.83,199.19 488.23,199.39 488.63,199.59 489.03,199.56 489.43,199.77 489.83,199.21 490.23,199.19 490.63,199.74 491.03,199.87 491.43,199.72 491.83,199.65 492.23,199.27 492.63,199.27 493.03,199.32 493.43,199.87 493.83,199.36 494.23,199.41 494.63,199.46 495.03,199.22 495.43,199.87 495.83,199.81 496.24,199.39 496.64,199.26 497.04,199.44 497.44,199.71 497.84,199.5 498.24,199.39 498.64,199.84 499.04,199.69 499.44,199.73 499.84,199.82 500.24,199.57 500.64,199.79 501.04,199.73 501.44,199.79 501.84,199.41 502.24,199.86 502.64,199.35 503.04,199.68 503.44,199.73 503.84,198.98 504.24,199.22 504.64,198.16 504.97,197.83 505.04,197.84 505.44,198.96 505.84,199.18 506.24,199.62 506.64,199.13 507.04,199.24 507.44,199.42 507.84,199.57 508.24,199.66 508.64,199.33 509.04,199.58 509.44,199.47 509.84,199.82 510.24,199.77 510.64,199.88 511.04,199.43 511.45,199.54 511.85,199.83 512.25,199.32 512.65,199.74 513.05,199.64 513.45,199.82 513.85,199.74 514.25,199.34 514.65,199.7 515.05,199.81 515.45,199.59 515.85,199.71 516.25,199.3 516.65,199.85 517.05,199.25 517.45,199.89 517.85,199.3 518.25,199.46 518.65,199.78 519.05,199.59 519.45,199.73 519.85,199.75 520.25,199.78 520.65,199.67 521.05,199.23 521.45,199.22 521.85,199.27 522.25,199.84 522.65,199.7 523.05,199.27 523.45,199.85 523.85,199.37 524.25,199.66 524.65,199.16 525.05,199.8 525.45,199.17 525.85,199.25 526.25,198.68 526.65,197.05 527.06,193.15 527.46,187.09 527.81,176.92 527.86,177.1 527.92,178.45 528.26,187.92 528.66,192.64 529.06,196.33 529.46,198.34 529.86,198.85 530.26,199.22 530.66,199.68 531.06,199.8 531.46,199.81 531.86,199.46 532.26,199.55 532.66,199.71 533.06,199.77 533.46,199.49 533.86,199.42 534.26,199.35 534.66,199.52 535.06,199.79 535.46,199.88 535.86,199.42 536.26,199.65 536.66,199.43 537.06,199.9 537.46,199.37 537.86,199.7 538.26,199.35 538.66,199.33 539.06,199.59 539.46,199.93 539.86,199.3 540.26,199.61 540.66,199.33 541.06,199.75 541.46,199.81 541.86,199.36 542.26,199.68 542.67,199.83 543.07,199.68 543.47,199.52 543.87,199.94 544.27,199.58 544.67,199.63 545.07,199.58 545.47,199.86 545.87,199.44 546.27,199.37 546.67,199.34 547.07,199.72 547.47,199.44 547.87,199.67 548.27,199.42 548.67,199.9 549.07,199.33 549.47,199.27 549.87,199.59 550.27,199.58 550.67,199.57 551.07,199.56 551.47,199.93 551.87,199.26 552.27,199.78 552.67,199.81 553.07,199.87 553.47,199.76 553.87,199.37 554.27,199.92 554.67,199.87 555.07,199.45 555.47,199.8 555.87,199.92 556.27,199.52 556.67,199.53 557.07,199.57 557.47,199.44 557.88,199.86 558.28,199.32 558.68,199.43 559.08,199.9 559.48,199.84 559.88,199.58 560.28,199.57 560.68,199.72 561.08,199.83 561.48,199.62 561.88,199.81 562.28,199.48 562.68,199.28 563.08,199.77 563.48,199.46 563.88,199.31 564.28,199.69 564.68,199.17 565.08,198.93 565.48,198.85 565.88,197.5 566.28,194.22 566.68,188.99 567.08,177.43 567.31,167.93 567.42,170.84 567.48,174.03 567.88,186.09 568.28,191.93 568.68,195.92 569.08,197.78 569.48,198.83 569.88,199.06 570.28,199.22 570.68,199.24 571.08,199.82 571.48,199.51 571.88,199.21 572.28,199.24 572.68,199.73 573.08,199.61 573.49,199.47 573.89,199.66 574.29,199.55 574.69,199.87 575.09,199.62 575.49,199.57 575.89,199.91 576.29,199.83 576.69,199.25 577.09,199.39 577.49,199.28 577.89,199.49 578.29,199.37 578.69,199.32 579.09,199.32 579.49,199.91 579.89,199.49 580.29,199.75 580.69,199.46 581.09,199.75 581.49,199.56 581.89,199.29 582.29,199.51 582.69,199.77 583.09,199.58 583.49,199.64 583.89,199.28 584.29,199.74 584.69,199.73 585.09,199.49 585.49,199.86 585.89,199.53 586.29,199.27 586.69,199.58 587.09,199.75 587.49,199.62 587.89,199.57 588.29,199.84 588.7,199.86 589.1,199.85 589.5,199.74 589.9,199.66 590.3,199.74 590.7,199.77 591.1,199.88 591.5,199.56 591.9,199.35 592.3,199.51 592.7,199.54 593.1,199.48 593.5,199.8 593.9,199.44 594.3,199.61 594.7,199.55 595.1,199.5 595.5,199.6 595.9,199.71 596.3,199.76 596.7,199.77 597.1,199.56 597.5,199.65 597.9,199.5 598.3,199.9 598.7,199.65 599.1,199.29 599.5,199.71 599.9,199.46 600.3,199.46 600.7,199.48 601.1,198.65 601.5,198.3 601.9,196.3 602.3,193.58 602.7,188.67 602.72,188.09 602.83,189.02 603.1,192.76 603.5,195.61 603.9,197.52 604.31,198.49 604.71,199.48 605.11,199.61 605.51,199.17 605.91,199.35 606.31,199.78 606.71,199.66 607.11,199.66 607.51,199.44 607.91,199.49 608.31,199.33 608.71,199.35 609.11,199.57 609.51,199.41 609.91,199.41 610.31,199.4 610.71,199.6 611.11,199.39 611.51,199.44 611.91,199.3 612.31,199.85 612.71,199.33 613.11,199.94 613.51,199.4 613.91,199.53 614.31,199.59 614.71,199.27 615.11,199.54 615.51,199.65 615.91,199.39 616.31,199.33 616.71,199.52 617.11,199.68 617.51,199.63 617.91,199.62 618.31,199.44 618.71,199.74 619.11,199.67 619.51,199.55 619.92,199.67 620.32,199.72 620.72,199.39 621.12,199.35 621.52,199.59 621.92,199.63 622.32,199.81 622.72,199.73 623.12,199.84 623.52,199.54 623.92,199.54 624.32,199.88 624.72,199.3 625.12,199.71 625.52,199.35 625.92,199.35 626.32,199.27 626.72,199.8 627.12,199.64 627.52,199.3 627.92,199.93 628.32,199.9 628.72,199.54 629.12,199.58 629.52,199.28 629.92,199.38 630.32,199.54 630.72,199.21 631.12,199.54 631.52,199.53 631.92,199.4 632.32,199.57 632.72,199.5 633.12,199.08 633.52,198.63 633.92,196.98 634.32,194.84 634.71,191.62 634.72,191.91 634.83,192.17 635.13,194.79 635.53,196.78 635.93,198.11 636.33,198.7 636.73,199.01 637.13,199.49 637.53,199.57 637.93,199.46 638.33,199.21 638.73,199.67 639.13,199.55 639.53,199.35 639.93,199.81 640.33,199.71 640.73,199.25 641.13,199.36 641.53,199.58 641.93,199.86 642.33,199.31 642.73,199.46 643.13,199.37 643.53,199.25 643.93,199.32 644.33,199.65 644.73,199.83 645.13,199.74 645.53,199.59 645.93,199.59 646.33,199.81 646.73,199.82 647.13,199.5 647.53,199.52 647.93,199.7 648.33,199.25 648.73,199.5 649.13,199.92 649.53,199.66 649.93,199.39 650.33,199.73 650.74,199.46 651.14,199.94 651.54,199.73 651.94,199.36 652.34,199.53 652.74,199.48 653.14,199.81 653.54,199.6 653.94,199.56 654.34,199.76 654.74,199.49 655.14,199.57 655.54,199.25 655.94,199.54 656.34,199.66 656.74,199.86 657.14,199.83 657.54,199.41 657.94,199.87 658.34,199.87 658.74,199.82 659.14,199.57 659.54,199.36 659.94,199.51 660.34,199.37 660.74,199.89 661.14,199.92 661.54,199.39 661.94,199.7 662.34,199.41 662.74,199.65 663.14,199.76 663.54,199.62 663.94,199.56 664.34,198.6 664.74,198.07 665.14,196.78 665.4,195.85 665.51,196.07 665.54,196.42 665.95,197.32 666.35,198.42 666.75,198.72 667.15,199.4 667.55,199.41 667.95,199.72 668.35,199.88 668.75,199.27 669.15,199.33 669.55,199.71 669.95,199.3 670.35,199.36 670.75,199.72 671.15,199.52 671.55,199.27 671.95,199.59 672.35,199.28 672.75,199.77 673.15,199.67 673.55,199.44 673.95,199.79 674.35,199.73 674.75,199.33 675.15,199.6 675.55,199.39 675.95,199.77 676.35,199.82 676.75,199.69 677.15,199.81 677.55,199.26 677.95,199.74 678.35,199.55 678.75,199.86 679.15,199.57 679.55,199.67 679.95,199.66 680.35,199.9 680.75,199.86 681.15,199.37 681.56,199.7 681.96,199.77 682.36,199.81 682.76,199.75 683.16,199.78 683.56,199.92 683.96,199.48 684.36,199.7 684.76,199.83 685.16,199.45 685.56,199.88 685.96,199.75 686.36,199.35 686.76,199.85 687.16,199.63 687.56,199.35 687.96,199.37 688.36,199.82 688.76,199.69 689.16,199.42 689.56,199.66 689.96,199.25 690.36,199.77 690.76,199.25 691.16,199.56 691.56,199.74 691.96,199.57 692.36,199.78 692.76,199.35 693.16,199.62 693.56,199.07 693.96,199.03 694.36,198.58 694.76,197.48 695.16,195.1 695.52,193.53 695.56,193.09 695.63,193.79 695.96,195.41 696.36,197.18 696.77,198.52 697.17,198.84 697.57,199.42 697.97,199.35 698.37,199.46 698.77,199.66 699.17,199.62 699.57,199.84 699.97,199.79 700.37,199.32 700.77,199.7 700.77,199.6 438.2,199.6" fill="#f01818" stroke="none"/>
<polyline points="438.2,199.64 438.6,199.47 439,199.84 439.4,199.39 439.8,199.69 440.2,199.49 440.6,199.5 441,199.65 441.4,199.67 441.8,199.39 442.2,199.28 442.6,199.39 443,199.55 443.4,199.74 443.8,199.9 444.2,199.26 444.6,199.45 445,199.36 445.4,199.71 445.8,199.52 446.2,199.26 446.6,199.36 447,199.52 447.4,199.72 447.8,199.64 448.2,199.32 448.6,199.68 449,199.46 449.4,199.52 449.81,199.31 450.21,199.37 450.61,199.74 451.01,199.94 451.41,199.75 451.81,199.64 452.21,199.53 452.61,199.36 453.01,199.31 453.41,199.9 453.81,199.35 454.21,199.37 454.61,199.33 455.01,199.53 455.41,199.74 455.81,199.34 456.21,199.37 456.61,199.45 457.01,199.29 457.41,199.69 457.81,199.87 458.21,199.54 458.61,199.37 459.01,199.78 459.41,199.4 459.81,199.27 460.21,199.76 460.61,199.49 461.01,199.44 461.41,199.59 461.81,199.77 462.21,199.73 462.61,199.39 463.01,199.35 463.41,199.58 463.81,199.84 464.21,199.34 464.61,199.36 465.01,199.73 465.42,199.49 465.82,199.26 466.22,199.26 466.62,199.51 467.02,199.54 467.42,199.46 467.82,199.73 468.22,199.72 468.62,199.72 469.02,199.35 469.42,199.57 469.82,199.42 470.22,199.52 470.62,199.42 471.02,199.66 471.42,199.71 471.82,199.01 472.22,199.41 472.62,199.56 473.02,199.14 473.42,198.96 473.82,199.32 474.22,198.89 474.62,198.91 475.02,198.56 475.42,198.58 475.82,198.04 476.22,196.45 476.62,194.78 477.02,190.95 477.42,177.32 477.82,97.72 477.96,61.5 478.22,140.68 478.62,183.73 479.02,192.54 479.42,195.53 479.82,196.83 480.22,198.08 480.63,198.69 481.03,198.87 481.43,199.08 481.83,199.29 482.23,199.42 482.63,199.15 483.03,198.99 483.43,199.33 483.83,199.02 484.23,199.08 484.63,199.7 485.03,199.35 485.43,199.51 485.83,199.72 486.23,199.14 486.63,199.65 487.03,199.44 487.43,199.4 487.83,199.19 488.23,199.39 488.63,199.59 489.03,199.56 489.43,199.77 489.83,199.21 490.23,199.19 490.63,199.74 491.03,199.87 491.43,199.72 491.83,199.65 492.23,199.27 492.63,199.27 493.03,199.32 493.43,199.87 493.83,199.36 494.23,199.41 494.63,199.46 495.03,199.22 495.43,199.87 495.83,199.81 496.24,199.39 496.64,199.26 497.04,199.44 497.44,199.71 497.84,199.5 498.24,199.39 498.64,199.84 499.04,199.69 499.44,199.73 499.84,199.82 500.24,199.57 500.64,199.79 501.04,199.73 501.44,199.79 501.84,199.41 502.24,199.86 502.64,199.35 503.04,199.68 503.44,199.73 503.84,198.98 504.24,199.22 504.64,198.16 504.97,197.83 505.04,197.84 505.44,198.96 505.84,199.18 506.24,199.62 506.64,199.13 507.04,199.24 507.44,199.42 507.84,199.57 508.24,199.66 508.64,199.33 509.04,199.58 509.44,199.47 509.84,199.82 510.24,199.77 510.64,199.88 511.04,199.43 511.45,199.54 511.85,199.83 512.25,199.32 512.65,199.74 513.05,199.64 513.45,199.82 513.85,199.74 514.25,199.34 514.65,199.7 515.05,199.81 515.45,199.59 515.85,199.71 516.25,199.3 516.65,199.85 517.05,199.25 517.45,199.89 517.85,199.3 518.25,199.46 518.65,199.78 519.05,199.59 519.45,199.73 519.85,199.75 520.25,199.78 520.65,199.67 521.05,199.23 521.45,199.22 521.85,199.27 522.25,199.84 522.65,199.7 523.05,199.27 523.45,199.85 523.85,199.37 524.25,199.66 524.65,199.16 525.05,199.8 525.45,199.17 525.85,199.25 526.25,198.68 526.65,197.05 527.06,193.15 527.46,187.09 527.81,176.92 527.86,177.1 527.92,178.45 528.26,187.92 528.66,192.64 529.06,196.33 529.46,198.34 529.86,198.85 530.26,199.22 530.66,199.68 531.06,199.8 531.46,199.81 531.86,199.46 532.26,199.55 532.66,199.71 533.06,199.77 533.46,199.49 533.86,199.42 534.26,199.35 534.66,199.52 535.06,199.79 535.46,199.88 535.86,199.42 536.26,199.65 536.66,199.43 537.06,199.9 537.46,199.37 537.86,199.7 538.26,199.35 538.66,199.33 539.06,199.59 539.46,199.93 539.86,199.3 540.26,199.61 540.66,199.33 541.06,199.75 541.46,199.81 541.86,199.36 542.26,199.68 542.67,199.83 543.07,199.68 543.47,199.52 543.87,199.94 544.27,199.58 544.67,199.63 545.07,199.58 545.47,199.86 545.87,199.44 546.27,199.37 546.67,199.34 547.07,199.72 547.47,199.44 547.87,199.67 548.27,199.42 548.67,199.9 549.07,199.33 549.47,199.27 549.87,199.59 550.27,199.58 550.67,199.57 551.07,199.56 551.47,199.93 551.87,199.26 552.27,199.78 552.67,199.81 553.07,199.87 553.47,199.76 553.87,199.37 554.27,199.92 554.67,199.87 555.07,199.45 555.47,199.8 555.87,199.92 556.27,199.52 556.67,199.53 557.07,199.57 557.47,199.44 557.88,199.86 558.28,199.32 558.68,199.43 559.08,199.9 559.48,199.84 559.88,199.58 560.28,199.57 560.68,199.72 561.08,199.83 561.48,199.62 561.88,199.81 562.28,199.48 562.68,199.28 563.08,199.77 563.48,199.46 563.88,199.31 564.28,199.69 564.68,199.17 565.08,198.93 565.48,198.85 565.88,197.5 566.28,194.22 566.68,188.99 567.08,177.43 567.31,167.93 567.42,170.84 567.48,174.03 567.88,186.09 568.28,191.93 568.68,195.92 569.08,197.78 569.48,198.83 569.88,199.06 570.28,199.22 570.68,199.24 571.08,199.82 571.48,199.51 571.88,199.21 572.28,199.24 572.68,199.73 573.08,199.61 573.49,199.47 573.89,199.66 574.29,199.55 574.69,199.87 575.09,199.62 575.49,199.57 575.89,199.91 576.29,199.83 576.69,199.25 577.09,199.39 577.49,199.28 577.89,199.49 578.29,199.37 578.69,199.32 579.09,199.32 579.49,199.91 579.89,199.49 580.29,199.75 580.69,199.46 581.09,199.75 581.49,199.56 581.89,199.29 582.29,199.51 582.69,199.77 583.09,199.58 583.49,199.64 583.89,199.28 584.29,199.74 584.69,199.73 585.09,199.49 585.49,199.86 585.89,199.53 586.29,199.27 586.69,199.58 587.09,199.75 587.49,199.62 587.89,199.57 588.29,199.84 588.7,199.86 589.1,199.85 589.5,199.74 589.9,199.66 590.3,199.74 590.7,199.77 591.1,199.88 591.5,199.56 591.9,199.35 592.3,199.51 592.7,199.54 593.1,199.48 593.5,199.8 593.9,199.44 594.3,199.61 594.7,199.55 595.1,199.5 595.5,199.6 595.9,199.71 596.3,199.76 596.7,199.77 597.1,199.56 597.5,199.65 597.9,199.5 598.3,199.9 598.7,199.65 599.1,199.29 599.5,199.71 599.9,199.46 600.3,199.46 600.7,199.48 601.1,198.65 601.5,198.3 601.9,196.3 602.3,193.58 602.7,188.67 602.72,188.09 602.83,189.02 603.1,192.76 603.5,195.61 603.9,197.52 604.31,198.49 604.71,199.48 605.11,199.61 605.51,199.17 605.91,199.35 606.31,199.78 606.71,199.66 607.11,199.66 607.51,199.44 607.91,199.49 608.31,199.33 608.71,199.35 609.11,199.57 609.51,199.41 609.91,199.41 610.31,199.4 610.71,199.6 611.11,199.39 611.51,199.44 611.91,199.3 612.31,199.85 612.71,199.33 613.11,199.94 613.51,199.4 613.91,199.53 614.31,199.59 614.71,199.27 615.11,199.54 615.51,199.65 615.91,199.39 616.31,199.33 616.71,199.52 617.11,199.68 617.51,199.63 617.91,199.62 618.31,199.44 618.71,199.74 619.11,199.67 619.51,199.55 619.92,199.67 620.32,199.72 620.72,199.39 621.12,199.35 621.52,199.59 621.92,199.63 622.32,199.81 622.72,199.73 623.12,199.84 623.52,199.54 623.92,199.54 624.32,199.88 624.72,199.3 625.12,199.71 625.52,199.35 625.92,199.35 626.32,199.27 626.72,199.8 627.12,199.64 627.52,199.3 627.92,199.93 628.32,199.9 628.72,199.54 629.12,199.58 629.52,199.28 629.92,199.38 630.32,199.54 630.72,199.21 631.12,199.54 631.52,199.53 631.92,199.4 632.32,199.57 632.72,199.5 633.12,199.08 633.52,198.63 633.92,196.98 634.32,194.84 634.71,191.62 634.72,191.91 634.83,192.17 635.13,194.79 635.53,196.78 635.93,198.11 636.33,198.7 636.73,199.01 637.13,199.49 637.53,199.57 637.93,199.46 638.33,199.21 638.73,199.67 639.13,199.55 639.53,199.35 639.93,199.81 640.33,199.71 640.73,199.25 641.13,199.36 641.53,199.58 641.93,199.86 642.33,199.31 642.73,199.46 643.13,199.37 643.53,199.25 643.93,199.32 644.33,199.65 644.73,199.83 645.13,199.74 645.53,199.59 645.93,199.59 646.33,199.81 646.73,199.82 647.13,199.5 647.53,199.52 647.93,199.7 648.33,199.25 648.73,199.5 649.13,199.92 649.53,199.66 649.93,199.39 650.33,199.73 650.74,199.46 651.14,199.94 651.54,199.73 651.94,199.36 652.34,199.53 652.74,199.48 653.14,199.81 653.54,199.6 653.94,199.56 654.34,199.76 654.74,199.49 655.14,199.57 655.54,199.25 655.94,199.54 656.34,199.66 656.74,199.86 657.14,199.83 657.54,199.41 657.94,199.87 658.34,199.87 658.74,199.82 659.14,199.57 659.54,199.36 659.94,199.51 660.34,199.37 660.74,199.89 661.14,199.92 661.54,199.39 661.94,199.7 662.34,199.41 662.74,199.65 663.14,199.76 663.54,199.62 663.94,199.56 664.34,198.6 664.74,198.07 665.14,196.78 665.4,195.85 665.51,196.07 665.54,196.42 665.95,197.32 666.35,198.42 666.75,198.72 667.15,199.4 667.55,199.41 667.95,199.72 668.35,199.88 668.75,199.27 669.15,199.33 669.55,199.71 669.95,199.3 670.35,199.36 670.75,199.72 671.15,199.52 671.55,199.27 671.95,199.59 672.35,199.28 672.75,199.77 673.15,199.67 673.55,199.44 673.95,199.79 674.35,199.73 674.75,199.33 675.15,199.6 675.55,199.39 675.95,199.77 676.35,199.82 676.75,199.69 677.15,199.81 677.55,199.26 677.95,199.74 678.35,199.55 678.75,199.86 679.15,199.57 679.55,199.67 679.95,199.66 680.35,199.9 680.75,199.86 681.15,199.37 681.56,199.7 681.96,199.77 682.36,199.81 682.76,199.75 683.16,199.78 683.56,199.92 683.96,199.48 684.36,199.7 684.76,199.83 685.16,199.45 685.56,199.88 685.96,199.75 686.36,199.35 686.76,199.85 687.16,199.63 687.56,199.35 687.96,199.37 688.36,199.82 688.76,199.69 689.16,199.42 689.56,199.66 689.96,199.25 690.36,199.77 690.76,199.25 691.16,199.56 691.56,199.74 691.96,199.57 692.36,199.78 692.76,199.35 693.16,199.62 693.56,199.07 693.96,199.03 694.36,198.58 694.76,197.48 695.16,195.1 695.52,193.53 695.56,193.09 695.63,193.79 695.96,195.41 696.36,197.18 696.77,198.52 697.17,198.84 697.57,199.42 697.97,199.35 698.37,199.46 698.77,199.66 699.17,199.62 699.57,199.84 699.97,199.79 700.37,199.32 700.77,199.7" fill="none" stroke="#f01818" stroke-width="1.3" stroke-linejoin="round"/>
<path d="M477.96 199.6V103.07" stroke="#f01818" stroke-width="1.9"/>
<polygon points="421.2,226.38 421.6,226.77 422,226.45 422.4,226.59 422.8,226.49 423.2,226.64 423.6,226.8 424,226.63 424.4,226.68 424.8,226.75 425.2,226.34 425.6,226.64 426,226.56 426.4,226.21 426.8,226.3 427.2,226.22 427.6,226.24 428,226.75 428.4,226.65 428.8,226.82 429.2,226.36 429.6,226.38 430,226.59 430.4,226.55 430.8,226.38 431.2,226.35 431.6,226.67 432,226.25 432.4,226.59 432.8,226.4 433.2,226.71 433.6,226.76 434.01,226.2 434.41,226.32 434.81,226.34 435.21,226.81 435.61,226.81 436.01,226.72 436.41,226.7 436.81,226.62 437.21,226.57 437.61,226.81 438.01,226.61 438.41,226.38 438.81,226.71 439.21,226.24 439.61,226.43 440.01,226.33 440.41,226.65 440.81,226.52 441.21,226.35 441.61,226.58 442.01,226.82 442.41,226.24 442.81,226.28 443.21,226.62 443.61,226.79 444.01,226.22 444.41,226.39 444.81,226.78 445.21,226.64 445.61,226.73 446.01,226.25 446.41,226.66 446.81,226.16 447.21,226.28 447.61,226.74 448.01,226.31 448.41,226.52 448.81,226.26 449.21,226.2 449.62,226.58 450.02,226.71 450.42,226.11 450.82,226.46 451.22,226.1 451.62,226.26 452.02,226.22 452.42,226.14 452.82,226.27 453.22,226.38 453.62,226.64 454.02,226.17 454.42,226.34 454.82,226.25 455.22,225.93 455.62,226.45 456.02,225.95 456.42,226.38 456.82,225.84 457.22,225.65 457.62,225.87 458.02,225.45 458.42,224.81 458.82,224.52 459.22,223.67 459.62,222.12 460.02,218.17 460.42,204.43 460.82,124.81 460.96,89.21 461.22,167.82 461.62,211.24 462.02,219.5 462.42,222.55 462.82,224.24 463.22,225 463.62,225.26 464.02,225.6 464.42,225.46 464.83,226.01 465.23,226.15 465.63,225.82 466.03,226.4 466.43,226.15 466.83,226.35 467.23,226.05 467.63,226.26 468.03,226.14 468.43,226.57 468.83,226.24 469.23,226.3 469.63,226.4 470.03,226.2 470.43,226.16 470.83,226.67 471.23,226.56 471.63,226.51 472.03,226.63 472.43,226.74 472.83,226.59 473.23,226.65 473.63,226.3 474.03,226.48 474.43,226.72 474.83,226.57 475.23,226.47 475.63,226.55 476.03,226.69 476.43,226.76 476.83,226.8 477.23,226.11 477.63,226.28 478.03,226.75 478.43,226.31 478.83,226.13 479.23,226.42 479.63,226.74 480.03,226.47 480.44,226.51 480.84,226.68 481.24,226.43 481.64,226.8 482.04,226.16 482.44,226.35 482.84,226.36 483.24,226.14 483.64,226.33 484.04,226.61 484.44,226.6 484.84,226.65 485.24,226.7 485.64,226.14 486.04,226.01 486.44,226.24 486.84,225.98 487.24,224.95 487.59,224.24 487.64,224.2 488.04,225.5 488.44,225.68 488.84,225.92 489.24,226.11 489.64,226.47 490.04,226.61 490.44,226.18 490.84,226.55 491.24,226.53 491.64,226.41 492.04,226.55 492.44,226.23 492.84,226.65 493.24,226.79 493.64,226.42 494.04,226.38 494.44,226.25 494.84,226.33 495.24,226.19 495.65,226.17 496.05,226.48 496.45,226.48 496.85,226.72 497.25,226.62 497.65,226.42 498.05,226.77 498.45,226.35 498.85,226.72 499.25,226.52 499.65,226.15 500.05,226.77 500.45,226.8 500.85,226.52 501.25,226.7 501.65,226.32 502.05,226.83 502.45,226.24 502.85,226.23 503.25,226.27 503.65,226.52 504.05,226.62 504.45,226.35 504.85,226.45 505.25,226.51 505.65,226.57 506.05,226.49 506.45,226.32 506.85,226.2 507.25,226.13 507.65,226.62 508.05,226.5 508.45,226.31 508.85,225.99 509.25,225.42 509.65,223.74 510.05,220.31 510.45,213.67 510.85,201.04 510.85,200.68 510.96,202.99 511.26,212.29 511.66,218.05 512.06,221.97 512.46,224.62 512.86,225.6 513.26,226.53 513.66,226.22 514.06,226.31 514.46,226.56 514.86,226.38 515.26,226.12 515.66,226.46 516.06,226.35 516.46,226.6 516.86,226.58 517.26,226.2 517.66,226.8 518.06,226.69 518.46,226.35 518.86,226.52 519.26,226.77 519.66,226.37 520.06,226.57 520.46,226.43 520.86,226.54 521.26,226.46 521.66,226.44 522.06,226.56 522.46,226.76 522.86,226.71 523.26,226.22 523.66,226.45 524.06,226.76 524.46,226.24 524.86,226.66 525.26,226.77 525.66,226.47 526.06,226.66 526.46,226.5 526.87,226.45 527.27,226.68 527.67,226.44 528.07,226.76 528.47,226.48 528.87,226.43 529.27,226.79 529.67,226.56 530.07,226.79 530.47,226.53 530.87,226.24 531.27,226.46 531.67,226.34 532.07,226.31 532.47,226.76 532.87,226.15 533.27,226.34 533.67,226.77 534.07,226.26 534.47,226.57 534.87,226.72 535.27,226.17 535.67,226.45 536.07,226.3 536.47,226.74 536.87,226.3 537.27,226.8 537.67,226.67 538.07,226.58 538.47,226.83 538.87,226.42 539.27,226.69 539.67,226.63 540.07,226.34 540.47,226.54 540.87,226.21 541.27,226.4 541.67,226.22 542.08,226.44 542.48,226.19 542.88,226.22 543.28,226.71 543.68,226.3 544.08,226.58 544.48,226.28 544.88,226.33 545.28,226.23 545.68,226.71 546.08,226.53 546.48,226.26 546.88,226.1 547.28,226.24 547.68,226.68 548.08,226.24 548.48,226.47 548.88,225.78 549.28,224.5 549.68,222.39 550.08,216.93 550.48,207.56 550.79,194.81 550.88,196.62 550.91,197.51 551.28,210.64 551.68,217.39 552.08,222.25 552.48,224.97 552.88,226.07 553.28,225.99 553.68,226.55 554.08,226.34 554.48,226.55 554.88,226.29 555.28,226.52 555.68,226.69 556.08,226.19 556.48,226.43 556.88,226.33 557.28,226.25 557.69,226.16 558.09,226.81 558.49,226.59 558.89,226.72 559.29,226.48 559.69,226.22 560.09,226.27 560.49,226.81 560.89,226.71 561.29,226.26 561.69,226.36 562.09,226.56 562.49,226.5 562.89,226.73 563.29,226.25 563.69,226.56 564.09,226.23 564.49,226.41 564.89,226.79 565.29,226.61 565.69,226.69 566.09,226.21 566.49,226.43 566.89,226.81 567.29,226.72 567.69,226.59 568.09,226.51 568.49,226.44 568.89,226.57 569.29,226.59 569.69,226.84 570.09,226.44 570.49,226.61 570.89,226.83 571.29,226.52 571.69,226.15 572.09,226.81 572.49,226.74 572.9,226.37 573.3,226.65 573.7,226.65 574.1,226.49 574.5,226.66 574.9,226.44 575.3,226.47 575.7,226.17 576.1,226.14 576.5,226.81 576.9,226.44 577.3,226.3 577.7,226.22 578.1,226.29 578.5,226.39 578.9,226.38 579.3,226.57 579.7,226.63 580.1,226.26 580.5,226.2 580.9,226.15 581.3,226.32 581.7,226.58 582.1,226.24 582.5,226.24 582.9,226.37 583.3,226.2 583.7,226.17 584.1,225.44 584.5,224.23 584.9,222.04 585.3,216.93 585.49,214.97 585.6,215.16 585.7,216.85 586.1,221.21 586.5,223.7 586.9,225.26 587.3,226.01 587.7,226.5 588.1,226.71 588.51,226.15 588.91,226.46 589.31,226.48 589.71,226.4 590.11,226.6 590.51,226.7 590.91,226.77 591.31,226.61 591.71,226.61 592.11,226.32 592.51,226.45 592.91,226.18 593.31,226.6 593.71,226.19 594.11,226.43 594.51,226.78 594.91,226.71 595.31,226.43 595.71,226.15 596.11,226.59 596.51,226.3 596.91,226.54 597.31,226.23 597.71,226.79 598.11,226.5 598.51,226.21 598.91,226.65 599.31,226.66 599.71,226.83 600.11,226.73 600.51,226.66 600.91,226.35 601.31,226.69 601.71,226.56 602.11,226.7 602.51,226.42 602.91,226.24 603.31,226.39 603.71,226.71 604.12,226.33 604.52,226.17 604.92,226.42 605.32,226.79 605.72,226.28 606.12,226.23 606.52,226.6 606.92,226.75 607.32,226.71 607.72,226.46 608.12,226.23 608.52,226.39 608.92,226.19 609.32,226.69 609.72,226.61 610.12,226.31 610.52,226.38 610.92,226.55 611.32,226.36 611.72,226.59 612.12,226.79 612.52,226.53 612.92,226.78 613.32,226.37 613.72,226.57 614.12,226.44 614.52,226.35 614.92,226.54 615.32,226.28 615.72,226.26 616.12,224.86 616.52,223.64 616.92,220.46 617.22,218.45 617.32,218.42 617.34,218.45 617.72,222.1 618.12,224.23 618.52,225.46 618.92,226.2 619.33,226.08 619.73,226.67 620.13,226.21 620.53,226.5 620.93,226.43 621.33,226.4 621.73,226.43 622.13,226.36 622.53,226.41 622.93,226.6 623.33,226.31 623.73,226.65 624.13,226.34 624.53,226.3 624.93,226.3 625.33,226.62 625.73,226.3 626.13,226.16 626.53,226.52 626.93,226.65 627.33,226.48 627.73,226.18 628.13,226.75 628.53,226.84 628.93,226.51 629.33,226.39 629.73,226.3 630.13,226.59 630.53,226.15 630.93,226.68 631.33,226.32 631.73,226.78 632.13,226.83 632.53,226.75 632.93,226.8 633.33,226.49 633.73,226.46 634.13,226.72 634.53,226.19 634.94,226.59 635.34,226.74 635.74,226.72 636.14,226.33 636.54,226.2 636.94,226.73 637.34,226.82 637.74,226.3 638.14,226.67 638.54,226.16 638.94,226.5 639.34,226.4 639.74,226.6 640.14,226.28 640.54,226.52 640.94,226.62 641.34,226.21 641.74,226.77 642.14,226.33 642.54,226.79 642.94,226.39 643.34,226.56 643.74,226.23 644.14,226.79 644.54,226.44 644.94,226.54 645.34,226.18 645.74,226.15 646.14,226.35 646.54,226.59 646.94,226.46 647.34,226.17 647.74,225.49 648.14,224.59 648.51,223.42 648.54,223.04 648.62,223.26 648.94,224.6 649.34,224.99 649.74,226.1 650.15,226.18 650.55,226.62 650.95,226.19 651.35,226.2 651.75,226.63 652.15,226.3 652.55,226.25 652.95,226.64 653.35,226.6 653.75,226.5 654.15,226.22 654.55,226.73 654.95,226.36 655.35,226.42 655.75,226.53 656.15,226.44 656.55,226.23 656.95,226.7 657.35,226.23 657.75,226.59 658.15,226.3 658.55,226.24 658.95,226.72 659.35,226.24 659.75,226.15 660.15,226.64 660.55,226.83 660.95,226.77 661.35,226.16 661.75,226.84 662.15,226.21 662.55,226.74 662.95,226.33 663.35,226.78 663.75,226.73 664.15,226.37 664.55,226.78 664.95,226.61 665.35,226.2 665.76,226.34 666.16,226.23 666.56,226.16 666.96,226.82 667.36,226.68 667.76,226.29 668.16,226.36 668.56,226.81 668.96,226.49 669.36,226.68 669.76,226.54 670.16,226.76 670.56,226.82 670.96,226.14 671.36,226.61 671.76,226.22 672.16,226.75 672.56,226.49 672.96,226.73 673.36,226.52 673.76,226.69 674.16,226.33 674.56,226.7 674.96,226.28 675.36,226.43 675.76,226.69 676.16,226.49 676.56,226.34 676.96,225.92 677.36,226.02 677.76,225.43 678.16,223.55 678.56,221.2 678.89,219.47 678.96,219.87 679,220.07 679.36,222.24 679.76,224.28 680.16,225.53 680.56,225.9 680.96,226.29 681.37,226.31 681.77,226.49 682.17,226.76 682.57,226.31 682.97,226.34 683.37,226.43 683.77,226.43 683.77,226.5 421.2,226.5" fill="#1010f0" stroke="none"/>
<polyline points="421.2,226.38 421.6,226.77 422,226.45 422.4,226.59 422.8,226.49 423.2,226.64 423.6,226.8 424,226.63 424.4,226.68 424.8,226.75 425.2,226.34 425.6,226.64 426,226.56 426.4,226.21 426.8,226.3 427.2,226.22 427.6,226.24 428,226.75 428.4,226.65 428.8,226.82 429.2,226.36 429.6,226.38 430,226.59 430.4,226.55 430.8,226.38 431.2,226.35 431.6,226.67 432,226.25 432.4,226.59 432.8,226.4 433.2,226.71 433.6,226.76 434.01,226.2 434.41,226.32 434.81,226.34 435.21,226.81 435.61,226.81 436.01,226.72 436.41,226.7 436.81,226.62 437.21,226.57 437.61,226.81 438.01,226.61 438.41,226.38 438.81,226.71 439.21,226.24 439.61,226.43 440.01,226.33 440.41,226.65 440.81,226.52 441.21,226.35 441.61,226.58 442.01,226.82 442.41,226.24 442.81,226.28 443.21,226.62 443.61,226.79 444.01,226.22 444.41,226.39 444.81,226.78 445.21,226.64 445.61,226.73 446.01,226.25 446.41,226.66 446.81,226.16 447.21,226.28 447.61,226.74 448.01,226.31 448.41,226.52 448.81,226.26 449.21,226.2 449.62,226.58 450.02,226.71 450.42,226.11 450.82,226.46 451.22,226.1 451.62,226.26 452.02,226.22 452.42,226.14 452.82,226.27 453.22,226.38 453.62,226.64 454.02,226.17 454.42,226.34 454.82,226.25 455.22,225.93 455.62,226.45 456.02,225.95 456.42,226.38 456.82,225.84 457.22,225.65 457.62,225.87 458.02,225.45 458.42,224.81 458.82,224.52 459.22,223.67 459.62,222.12 460.02,218.17 460.42,204.43 460.82,124.81 460.96,89.21 461.22,167.82 461.62,211.24 462.02,219.5 462.42,222.55 462.82,224.24 463.22,225 463.62,225.26 464.02,225.6 464.42,225.46 464.83,226.01 465.23,226.15 465.63,225.82 466.03,226.4 466.43,226.15 466.83,226.35 467.23,226.05 467.63,226.26 468.03,226.14 468.43,226.57 468.83,226.24 469.23,226.3 469.63,226.4 470.03,226.2 470.43,226.16 470.83,226.67 471.23,226.56 471.63,226.51 472.03,226.63 472.43,226.74 472.83,226.59 473.23,226.65 473.63,226.3 474.03,226.48 474.43,226.72 474.83,226.57 475.23,226.47 475.63,226.55 476.03,226.69 476.43,226.76 476.83,226.8 477.23,226.11 477.63,226.28 478.03,226.75 478.43,226.31 478.83,226.13 479.23,226.42 479.63,226.74 480.03,226.47 480.44,226.51 480.84,226.68 481.24,226.43 481.64,226.8 482.04,226.16 482.44,226.35 482.84,226.36 483.24,226.14 483.64,226.33 484.04,226.61 484.44,226.6 484.84,226.65 485.24,226.7 485.64,226.14 486.04,226.01 486.44,226.24 486.84,225.98 487.24,224.95 487.59,224.24 487.64,224.2 488.04,225.5 488.44,225.68 488.84,225.92 489.24,226.11 489.64,226.47 490.04,226.61 490.44,226.18 490.84,226.55 491.24,226.53 491.64,226.41 492.04,226.55 492.44,226.23 492.84,226.65 493.24,226.79 493.64,226.42 494.04,226.38 494.44,226.25 494.84,226.33 495.24,226.19 495.65,226.17 496.05,226.48 496.45,226.48 496.85,226.72 497.25,226.62 497.65,226.42 498.05,226.77 498.45,226.35 498.85,226.72 499.25,226.52 499.65,226.15 500.05,226.77 500.45,226.8 500.85,226.52 501.25,226.7 501.65,226.32 502.05,226.83 502.45,226.24 502.85,226.23 503.25,226.27 503.65,226.52 504.05,226.62 504.45,226.35 504.85,226.45 505.25,226.51 505.65,226.57 506.05,226.49 506.45,226.32 506.85,226.2 507.25,226.13 507.65,226.62 508.05,226.5 508.45,226.31 508.85,225.99 509.25,225.42 509.65,223.74 510.05,220.31 510.45,213.67 510.85,201.04 510.85,200.68 510.96,202.99 511.26,212.29 511.66,218.05 512.06,221.97 512.46,224.62 512.86,225.6 513.26,226.53 513.66,226.22 514.06,226.31 514.46,226.56 514.86,226.38 515.26,226.12 515.66,226.46 516.06,226.35 516.46,226.6 516.86,226.58 517.26,226.2 517.66,226.8 518.06,226.69 518.46,226.35 518.86,226.52 519.26,226.77 519.66,226.37 520.06,226.57 520.46,226.43 520.86,226.54 521.26,226.46 521.66,226.44 522.06,226.56 522.46,226.76 522.86,226.71 523.26,226.22 523.66,226.45 524.06,226.76 524.46,226.24 524.86,226.66 525.26,226.77 525.66,226.47 526.06,226.66 526.46,226.5 526.87,226.45 527.27,226.68 527.67,226.44 528.07,226.76 528.47,226.48 528.87,226.43 529.27,226.79 529.67,226.56 530.07,226.79 530.47,226.53 530.87,226.24 531.27,226.46 531.67,226.34 532.07,226.31 532.47,226.76 532.87,226.15 533.27,226.34 533.67,226.77 534.07,226.26 534.47,226.57 534.87,226.72 535.27,226.17 535.67,226.45 536.07,226.3 536.47,226.74 536.87,226.3 537.27,226.8 537.67,226.67 538.07,226.58 538.47,226.83 538.87,226.42 539.27,226.69 539.67,226.63 540.07,226.34 540.47,226.54 540.87,226.21 541.27,226.4 541.67,226.22 542.08,226.44 542.48,226.19 542.88,226.22 543.28,226.71 543.68,226.3 544.08,226.58 544.48,226.28 544.88,226.33 545.28,226.23 545.68,226.71 546.08,226.53 546.48,226.26 546.88,226.1 547.28,226.24 547.68,226.68 548.08,226.24 548.48,226.47 548.88,225.78 549.28,224.5 549.68,222.39 550.08,216.93 550.48,207.56 550.79,194.81 550.88,196.62 550.91,197.51 551.28,210.64 551.68,217.39 552.08,222.25 552.48,224.97 552.88,226.07 553.28,225.99 553.68,226.55 554.08,226.34 554.48,226.55 554.88,226.29 555.28,226.52 555.68,226.69 556.08,226.19 556.48,226.43 556.88,226.33 557.28,226.25 557.69,226.16 558.09,226.81 558.49,226.59 558.89,226.72 559.29,226.48 559.69,226.22 560.09,226.27 560.49,226.81 560.89,226.71 561.29,226.26 561.69,226.36 562.09,226.56 562.49,226.5 562.89,226.73 563.29,226.25 563.69,226.56 564.09,226.23 564.49,226.41 564.89,226.79 565.29,226.61 565.69,226.69 566.09,226.21 566.49,226.43 566.89,226.81 567.29,226.72 567.69,226.59 568.09,226.51 568.49,226.44 568.89,226.57 569.29,226.59 569.69,226.84 570.09,226.44 570.49,226.61 570.89,226.83 571.29,226.52 571.69,226.15 572.09,226.81 572.49,226.74 572.9,226.37 573.3,226.65 573.7,226.65 574.1,226.49 574.5,226.66 574.9,226.44 575.3,226.47 575.7,226.17 576.1,226.14 576.5,226.81 576.9,226.44 577.3,226.3 577.7,226.22 578.1,226.29 578.5,226.39 578.9,226.38 579.3,226.57 579.7,226.63 580.1,226.26 580.5,226.2 580.9,226.15 581.3,226.32 581.7,226.58 582.1,226.24 582.5,226.24 582.9,226.37 583.3,226.2 583.7,226.17 584.1,225.44 584.5,224.23 584.9,222.04 585.3,216.93 585.49,214.97 585.6,215.16 585.7,216.85 586.1,221.21 586.5,223.7 586.9,225.26 587.3,226.01 587.7,226.5 588.1,226.71 588.51,226.15 588.91,226.46 589.31,226.48 589.71,226.4 590.11,226.6 590.51,226.7 590.91,226.77 591.31,226.61 591.71,226.61 592.11,226.32 592.51,226.45 592.91,226.18 593.31,226.6 593.71,226.19 594.11,226.43 594.51,226.78 594.91,226.71 595.31,226.43 595.71,226.15 596.11,226.59 596.51,226.3 596.91,226.54 597.31,226.23 597.71,226.79 598.11,226.5 598.51,226.21 598.91,226.65 599.31,226.66 599.71,226.83 600.11,226.73 600.51,226.66 600.91,226.35 601.31,226.69 601.71,226.56 602.11,226.7 602.51,226.42 602.91,226.24 603.31,226.39 603.71,226.71 604.12,226.33 604.52,226.17 604.92,226.42 605.32,226.79 605.72,226.28 606.12,226.23 606.52,226.6 606.92,226.75 607.32,226.71 607.72,226.46 608.12,226.23 608.52,226.39 608.92,226.19 609.32,226.69 609.72,226.61 610.12,226.31 610.52,226.38 610.92,226.55 611.32,226.36 611.72,226.59 612.12,226.79 612.52,226.53 612.92,226.78 613.32,226.37 613.72,226.57 614.12,226.44 614.52,226.35 614.92,226.54 615.32,226.28 615.72,226.26 616.12,224.86 616.52,223.64 616.92,220.46 617.22,218.45 617.32,218.42 617.34,218.45 617.72,222.1 618.12,224.23 618.52,225.46 618.92,226.2 619.33,226.08 619.73,226.67 620.13,226.21 620.53,226.5 620.93,226.43 621.33,226.4 621.73,226.43 622.13,226.36 622.53,226.41 622.93,226.6 623.33,226.31 623.73,226.65 624.13,226.34 624.53,226.3 624.93,226.3 625.33,226.62 625.73,226.3 626.13,226.16 626.53,226.52 626.93,226.65 627.33,226.48 627.73,226.18 628.13,226.75 628.53,226.84 628.93,226.51 629.33,226.39 629.73,226.3 630.13,226.59 630.53,226.15 630.93,226.68 631.33,226.32 631.73,226.78 632.13,226.83 632.53,226.75 632.93,226.8 633.33,226.49 633.73,226.46 634.13,226.72 634.53,226.19 634.94,226.59 635.34,226.74 635.74,226.72 636.14,226.33 636.54,226.2 636.94,226.73 637.34,226.82 637.74,226.3 638.14,226.67 638.54,226.16 638.94,226.5 639.34,226.4 639.74,226.6 640.14,226.28 640.54,226.52 640.94,226.62 641.34,226.21 641.74,226.77 642.14,226.33 642.54,226.79 642.94,226.39 643.34,226.56 643.74,226.23 644.14,226.79 644.54,226.44 644.94,226.54 645.34,226.18 645.74,226.15 646.14,226.35 646.54,226.59 646.94,226.46 647.34,226.17 647.74,225.49 648.14,224.59 648.51,223.42 648.54,223.04 648.62,223.26 648.94,224.6 649.34,224.99 649.74,226.1 650.15,226.18 650.55,226.62 650.95,226.19 651.35,226.2 651.75,226.63 652.15,226.3 652.55,226.25 652.95,226.64 653.35,226.6 653.75,226.5 654.15,226.22 654.55,226.73 654.95,226.36 655.35,226.42 655.75,226.53 656.15,226.44 656.55,226.23 656.95,226.7 657.35,226.23 657.75,226.59 658.15,226.3 658.55,226.24 658.95,226.72 659.35,226.24 659.75,226.15 660.15,226.64 660.55,226.83 660.95,226.77 661.35,226.16 661.75,226.84 662.15,226.21 662.55,226.74 662.95,226.33 663.35,226.78 663.75,226.73 664.15,226.37 664.55,226.78 664.95,226.61 665.35,226.2 665.76,226.34 666.16,226.23 666.56,226.16 666.96,226.82 667.36,226.68 667.76,226.29 668.16,226.36 668.56,226.81 668.96,226.49 669.36,226.68 669.76,226.54 670.16,226.76 670.56,226.82 670.96,226.14 671.36,226.61 671.76,226.22 672.16,226.75 672.56,226.49 672.96,226.73 673.36,226.52 673.76,226.69 674.16,226.33 674.56,226.7 674.96,226.28 675.36,226.43 675.76,226.69 676.16,226.49 676.56,226.34 676.96,225.92 677.36,226.02 677.76,225.43 678.16,223.55 678.56,221.2 678.89,219.47 678.96,219.87 679,220.07 679.36,222.24 679.76,224.28 680.16,225.53 680.56,225.9 680.96,226.29 681.37,226.31 681.77,226.49 682.17,226.76 682.57,226.31 682.97,226.34 683.37,226.43 683.77,226.43" fill="none" stroke="#1010f0" stroke-width="1.3" stroke-linejoin="round"/>
<path d="M460.96 226.5V126.12" stroke="#1010f0" stroke-width="1.9"/>
<polygon points="404.2,253.26 404.6,253.06 405,253.13 405.4,253.24 405.8,253.46 406.2,253.52 406.6,253.45 407,253.06 407.4,253.47 407.8,253.47 408.2,253.46 408.6,253.64 409,253.04 409.4,253.74 409.8,253.32 410.2,253.09 410.6,253.56 411,253.31 411.4,253.48 411.8,253.57 412.2,253.6 412.6,253.66 413,253.15 413.4,253.19 413.8,253.1 414.2,253.7 414.6,253.25 415,253.51 415.4,253.29 415.8,253.35 416.2,253.52 416.6,253.06 417,253.74 417.4,253.21 417.8,253.14 418.21,253.38 418.61,253.32 419.01,253.04 419.41,253.57 419.81,253.29 420.21,253.21 420.61,253.47 421.01,253.23 421.41,253.46 421.81,253.36 422.21,253.3 422.61,253.26 423.01,253.5 423.41,253.29 423.81,253.35 424.21,253.57 424.61,253.3 425.01,253.54 425.41,253.09 425.81,253.39 426.21,253.22 426.61,253.35 427.01,253.38 427.41,253.56 427.81,253.62 428.21,253.06 428.61,253.34 429.01,253.34 429.41,253.34 429.81,253.14 430.21,253.53 430.61,253.58 431.01,253.12 431.41,253.37 431.81,253.24 432.21,253.11 432.61,253.05 433.01,253.07 433.41,253.64 433.82,253.4 434.22,253.07 434.62,253.08 435.02,253.55 435.42,253.52 435.82,253.44 436.22,253.53 436.62,253.34 437.02,253.01 437.42,253.19 437.82,253.21 438.22,253.44 438.62,253.19 439.02,252.72 439.42,252.88 439.82,252.98 440.22,252.86 440.62,252.52 441.02,252.38 441.42,252.56 441.82,251.83 442.22,251.48 442.62,250.38 443.02,248.65 443.42,243.99 443.82,228.36 444.22,135.91 444.33,108.74 444.62,197.87 445.02,238.05 445.42,246.83 445.82,249.74 446.22,250.76 446.62,251.84 447.02,252.26 447.42,252.62 447.82,252.41 448.22,253.07 448.62,252.8 449.03,252.72 449.43,253.25 449.83,253.14 450.23,252.92 450.63,253.08 451.03,253.28 451.43,253.53 451.83,253.27 452.23,253.34 452.63,253.11 453.03,253.42 453.43,253.35 453.83,253.19 454.23,253.08 454.63,253.41 455.03,253.39 455.43,253.27 455.83,253.03 456.23,253.55 456.63,253 457.03,253.19 457.43,253.43 457.83,253.23 458.23,253.47 458.63,253.65 459.03,253.17 459.43,253.44 459.83,253.34 460.23,253.36 460.63,253.08 461.03,253.18 461.43,253.69 461.83,253.3 462.23,253.39 462.63,253.39 463.03,253.12 463.43,253.42 463.83,253.38 464.23,253.09 464.64,253.4 465.04,253.37 465.44,253.35 465.84,253.13 466.24,253.24 466.64,253.18 467.04,253.41 467.44,253.66 467.84,253.2 468.24,253.28 468.64,253.11 469.04,253.08 469.44,253.49 469.84,253.33 470.24,253.26 470.64,252.38 471.04,252.1 471.34,251.67 471.44,251.27 471.84,252.22 472.24,253.14 472.64,252.94 473.04,253.04 473.44,253.26 473.84,253.6 474.24,253.18 474.64,253.39 475.04,253.28 475.44,253 475.84,253.13 476.24,253.1 476.64,253.61 477.04,253.48 477.44,253.36 477.84,253.72 478.24,253.03 478.64,253.53 479.04,253.54 479.44,253.51 479.84,253.55 480.25,253.13 480.65,253.34 481.05,253.37 481.45,253.43 481.85,253.69 482.25,253.52 482.65,253.12 483.05,253.17 483.45,253.13 483.85,253.55 484.25,253.59 484.65,253.69 485.05,253.35 485.45,253.46 485.85,253.4 486.25,253.38 486.65,253.31 487.05,253.46 487.45,253.15 487.85,253.57 488.25,253.06 488.65,253.31 489.05,253.65 489.45,253.46 489.85,253.29 490.25,253.35 490.65,253.21 491.05,253.3 491.45,253.11 491.85,252.07 492.25,250.73 492.65,247.05 493.05,240.82 493.45,227.94 493.47,227.94 493.58,229.87 493.85,238.95 494.25,244.73 494.65,249.3 495.05,251.54 495.46,252.58 495.86,253.42 496.26,252.99 496.66,253.59 497.06,253.24 497.46,253.55 497.86,253.04 498.26,253.31 498.66,253.14 499.06,253.36 499.46,253.24 499.86,253.25 500.26,253.52 500.66,253.58 501.06,253.14 501.46,253.63 501.86,253.09 502.26,253.59 502.66,253.66 503.06,253.67 503.46,253.19 503.86,253.07 504.26,253.45 504.66,253.28 505.06,253.56 505.46,253.1 505.86,253.26 506.26,253.63 506.66,253.7 507.06,253.25 507.46,253.71 507.86,253.15 508.26,253.53 508.66,253.58 509.06,253.33 509.46,253.52 509.86,253.35 510.26,253.63 510.66,253.1 511.07,253.51 511.47,253.15 511.87,253.63 512.27,253.18 512.67,253.06 513.07,253.47 513.47,253.72 513.87,253.48 514.27,253.29 514.67,253.58 515.07,253.36 515.47,253.68 515.87,253.42 516.27,253.23 516.67,253.44 517.07,253.27 517.47,253.66 517.87,253.16 518.27,253.65 518.67,253.09 519.07,253.04 519.47,253.08 519.87,253.37 520.27,253.53 520.67,253.49 521.07,253.21 521.47,253.39 521.87,253.09 522.27,253.67 522.67,253.4 523.07,253.13 523.47,253.31 523.87,253.35 524.27,253.67 524.67,253.63 525.07,253.54 525.47,253.1 525.87,253.13 526.28,253.56 526.68,253.07 527.08,253.69 527.48,253.29 527.88,253.03 528.28,253.46 528.68,253.03 529.08,253.22 529.48,253.63 529.88,253.41 530.28,253.3 530.68,253.4 531.08,252.98 531.48,253.15 531.88,252.03 532.28,250.54 532.68,246.81 533.08,239.5 533.48,223.46 533.61,218.72 533.72,221.64 533.88,229.75 534.28,240.17 534.68,246.44 535.08,250.07 535.48,252.4 535.88,252.8 536.28,253.42 536.68,253.19 537.08,253.38 537.48,253.39 537.88,253.2 538.28,253.57 538.68,253.57 539.08,253.04 539.48,253.47 539.88,253.12 540.28,253.1 540.68,253.38 541.08,253.62 541.48,253.66 541.89,253.11 542.29,253.65 542.69,253.38 543.09,253.36 543.49,253.65 543.89,253.41 544.29,253.62 544.69,253.36 545.09,253.38 545.49,253.48 545.89,253.6 546.29,253.46 546.69,253.6 547.09,253.65 547.49,253.57 547.89,253.13 548.29,253.39 548.69,253.12 549.09,253.73 549.49,253.08 549.89,253.4 550.29,253.19 550.69,253.34 551.09,253.26 551.49,253.58 551.89,253.22 552.29,253.63 552.69,253.56 553.09,253.72 553.49,253.47 553.89,253.38 554.29,253.54 554.69,253.12 555.09,253.68 555.49,253.34 555.89,253.58 556.29,253.32 556.69,253.19 557.09,253.24 557.5,253.7 557.9,253.57 558.3,253.32 558.7,253.05 559.1,253.71 559.5,253.3 559.9,253.25 560.3,253.17 560.7,253.49 561.1,253.17 561.5,253.41 561.9,253.09 562.3,253.72 562.7,253.07 563.1,253.43 563.5,253.43 563.9,253.65 564.3,253.53 564.7,253.18 565.1,253.21 565.5,253.55 565.9,253.38 566.3,253.41 566.7,253.05 567.1,252.23 567.5,250.46 567.9,246.92 568.3,240.48 568.38,240.05 568.49,241.19 568.7,244.69 569.1,248.26 569.5,250.47 569.9,252.03 570.3,252.83 570.7,253.41 571.1,253.2 571.5,253.08 571.9,253.14 572.3,253.64 572.71,253.21 573.11,253.47 573.51,253.61 573.91,253.05 574.31,253.26 574.71,253.21 575.11,253.64 575.51,253.15 575.91,253.08 576.31,253.1 576.71,253.22 577.11,253.16 577.51,253.18 577.91,253.33 578.31,253.44 578.71,253.16 579.11,253.19 579.51,253.13 579.91,253.53 580.31,253.07 580.71,253.37 581.11,253.08 581.51,253.66 581.91,253.06 582.31,253.19 582.71,253.57 583.11,253.16 583.51,253.58 583.91,253.6 584.31,253.42 584.71,253.58 585.11,253.4 585.51,253.11 585.91,253.26 586.31,253.25 586.71,253.47 587.11,253.19 587.51,253.19 587.91,253.26 588.32,253.08 588.72,253.16 589.12,253.46 589.52,253.68 589.92,253.28 590.32,253.16 590.72,253.5 591.12,253.32 591.52,253.15 591.92,253.18 592.32,253.74 592.72,253.39 593.12,253.72 593.52,253.66 593.92,253.16 594.32,253.44 594.72,253.31 595.12,253.41 595.52,253.49 595.92,253.57 596.32,253.47 596.72,253.11 597.12,253.26 597.52,253.48 597.92,253.59 598.32,253.41 598.72,252.96 599.12,252.72 599.52,251.64 599.92,249.78 600.32,246.75 600.56,244.21 600.67,245.16 600.72,245.11 601.12,249.13 601.52,251.05 601.92,251.85 602.32,252.98 602.72,253.37 603.12,253.01 603.53,253.25 603.93,253.07 604.33,253.43 604.73,253.36 605.13,253.05 605.53,253.37 605.93,253.03 606.33,253.6 606.73,253.15 607.13,253.62 607.53,253.37 607.93,253.74 608.33,253.61 608.73,253.08 609.13,253.42 609.53,253.17 609.93,253.57 610.33,253.49 610.73,253.67 611.13,253.36 611.53,253.14 611.93,253.38 612.33,253.48 612.73,253.09 613.13,253.12 613.53,253.28 613.93,253.69 614.33,253.31 614.73,253.43 615.13,253.07 615.53,253.49 615.93,253.28 616.33,253.3 616.73,253.48 617.13,253.38 617.53,253.27 617.93,253.11 618.33,253.4 618.73,253.49 619.14,253.06 619.54,253.7 619.94,253.16 620.34,253.27 620.74,253.35 621.14,253.43 621.54,253.22 621.94,253.12 622.34,253.23 622.74,253.22 623.14,253.72 623.54,253.51 623.94,253.65 624.34,253.07 624.74,253.12 625.14,253.64 625.54,253.33 625.94,253.33 626.34,253.7 626.74,253.46 627.14,253.21 627.54,253.28 627.94,253.53 628.34,253.19 628.74,253.51 629.14,253.31 629.54,253.37 629.94,252.89 630.34,252.89 630.74,252.3 631.14,251.48 631.54,250 631.69,249.19 631.81,249.54 631.94,250.11 632.34,251.76 632.74,252.65 633.14,252.88 633.54,252.97 633.94,253.1 634.35,253.45 634.75,253.61 635.15,253.36 635.55,253.11 635.95,253.62 636.35,253.22 636.75,253.62 637.15,253.52 637.55,253.7 637.95,253.53 638.35,253.47 638.75,253.06 639.15,253.07 639.55,253.61 639.95,253.53 640.35,253.08 640.75,253.6 641.15,253.52 641.55,253.44 641.95,253.67 642.35,253.56 642.75,253.47 643.15,253.47 643.55,253.07 643.95,253.56 644.35,253.6 644.75,253.11 645.15,253.43 645.55,253.16 645.95,253.3 646.35,253.2 646.75,253.52 647.15,253.64 647.55,253.21 647.95,253.41 648.35,253.35 648.75,253.27 649.15,253.22 649.55,253.55 649.96,253.49 650.36,253.1 650.76,253.37 651.16,253.54 651.56,253.3 651.96,253.56 652.36,253.2 652.76,253.71 653.16,253.16 653.56,253.34 653.96,253.49 654.36,253.08 654.76,253.55 655.16,253.56 655.56,253.68 655.96,253.34 656.36,253.19 656.76,253.24 657.16,253.42 657.56,253.14 657.96,253.61 658.36,253.46 658.76,253.21 659.16,252.95 659.56,253.13 659.96,252.97 660.36,252.59 660.76,252.13 661.16,250.32 661.56,247.9 661.89,246.24 661.96,246.29 662,246.14 662.36,248.82 662.76,250.96 663.16,251.77 663.56,252.75 663.96,253.09 664.36,253.12 664.76,253.01 665.16,253.57 665.57,253.45 665.97,253.65 666.37,253.42 666.77,253.36 666.77,253.4 404.2,253.4" fill="#ff8a14" stroke="none"/>
<polyline points="404.2,253.26 404.6,253.06 405,253.13 405.4,253.24 405.8,253.46 406.2,253.52 406.6,253.45 407,253.06 407.4,253.47 407.8,253.47 408.2,253.46 408.6,253.64 409,253.04 409.4,253.74 409.8,253.32 410.2,253.09 410.6,253.56 411,253.31 411.4,253.48 411.8,253.57 412.2,253.6 412.6,253.66 413,253.15 413.4,253.19 413.8,253.1 414.2,253.7 414.6,253.25 415,253.51 415.4,253.29 415.8,253.35 416.2,253.52 416.6,253.06 417,253.74 417.4,253.21 417.8,253.14 418.21,253.38 418.61,253.32 419.01,253.04 419.41,253.57 419.81,253.29 420.21,253.21 420.61,253.47 421.01,253.23 421.41,253.46 421.81,253.36 422.21,253.3 422.61,253.26 423.01,253.5 423.41,253.29 423.81,253.35 424.21,253.57 424.61,253.3 425.01,253.54 425.41,253.09 425.81,253.39 426.21,253.22 426.61,253.35 427.01,253.38 427.41,253.56 427.81,253.62 428.21,253.06 428.61,253.34 429.01,253.34 429.41,253.34 429.81,253.14 430.21,253.53 430.61,253.58 431.01,253.12 431.41,253.37 431.81,253.24 432.21,253.11 432.61,253.05 433.01,253.07 433.41,253.64 433.82,253.4 434.22,253.07 434.62,253.08 435.02,253.55 435.42,253.52 435.82,253.44 436.22,253.53 436.62,253.34 437.02,253.01 437.42,253.19 437.82,253.21 438.22,253.44 438.62,253.19 439.02,252.72 439.42,252.88 439.82,252.98 440.22,252.86 440.62,252.52 441.02,252.38 441.42,252.56 441.82,251.83 442.22,251.48 442.62,250.38 443.02,248.65 443.42,243.99 443.82,228.36 444.22,135.91 444.33,108.74 444.62,197.87 445.02,238.05 445.42,246.83 445.82,249.74 446.22,250.76 446.62,251.84 447.02,252.26 447.42,252.62 447.82,252.41 448.22,253.07 448.62,252.8 449.03,252.72 449.43,253.25 449.83,253.14 450.23,252.92 450.63,253.08 451.03,253.28 451.43,253.53 451.83,253.27 452.23,253.34 452.63,253.11 453.03,253.42 453.43,253.35 453.83,253.19 454.23,253.08 454.63,253.41 455.03,253.39 455.43,253.27 455.83,253.03 456.23,253.55 456.63,253 457.03,253.19 457.43,253.43 457.83,253.23 458.23,253.47 458.63,253.65 459.03,253.17 459.43,253.44 459.83,253.34 460.23,253.36 460.63,253.08 461.03,253.18 461.43,253.69 461.83,253.3 462.23,253.39 462.63,253.39 463.03,253.12 463.43,253.42 463.83,253.38 464.23,253.09 464.64,253.4 465.04,253.37 465.44,253.35 465.84,253.13 466.24,253.24 466.64,253.18 467.04,253.41 467.44,253.66 467.84,253.2 468.24,253.28 468.64,253.11 469.04,253.08 469.44,253.49 469.84,253.33 470.24,253.26 470.64,252.38 471.04,252.1 471.34,251.67 471.44,251.27 471.84,252.22 472.24,253.14 472.64,252.94 473.04,253.04 473.44,253.26 473.84,253.6 474.24,253.18 474.64,253.39 475.04,253.28 475.44,253 475.84,253.13 476.24,253.1 476.64,253.61 477.04,253.48 477.44,253.36 477.84,253.72 478.24,253.03 478.64,253.53 479.04,253.54 479.44,253.51 479.84,253.55 480.25,253.13 480.65,253.34 481.05,253.37 481.45,253.43 481.85,253.69 482.25,253.52 482.65,253.12 483.05,253.17 483.45,253.13 483.85,253.55 484.25,253.59 484.65,253.69 485.05,253.35 485.45,253.46 485.85,253.4 486.25,253.38 486.65,253.31 487.05,253.46 487.45,253.15 487.85,253.57 488.25,253.06 488.65,253.31 489.05,253.65 489.45,253.46 489.85,253.29 490.25,253.35 490.65,253.21 491.05,253.3 491.45,253.11 491.85,252.07 492.25,250.73 492.65,247.05 493.05,240.82 493.45,227.94 493.47,227.94 493.58,229.87 493.85,238.95 494.25,244.73 494.65,249.3 495.05,251.54 495.46,252.58 495.86,253.42 496.26,252.99 496.66,253.59 497.06,253.24 497.46,253.55 497.86,253.04 498.26,253.31 498.66,253.14 499.06,253.36 499.46,253.24 499.86,253.25 500.26,253.52 500.66,253.58 501.06,253.14 501.46,253.63 501.86,253.09 502.26,253.59 502.66,253.66 503.06,253.67 503.46,253.19 503.86,253.07 504.26,253.45 504.66,253.28 505.06,253.56 505.46,253.1 505.86,253.26 506.26,253.63 506.66,253.7 507.06,253.25 507.46,253.71 507.86,253.15 508.26,253.53 508.66,253.58 509.06,253.33 509.46,253.52 509.86,253.35 510.26,253.63 510.66,253.1 511.07,253.51 511.47,253.15 511.87,253.63 512.27,253.18 512.67,253.06 513.07,253.47 513.47,253.72 513.87,253.48 514.27,253.29 514.67,253.58 515.07,253.36 515.47,253.68 515.87,253.42 516.27,253.23 516.67,253.44 517.07,253.27 517.47,253.66 517.87,253.16 518.27,253.65 518.67,253.09 519.07,253.04 519.47,253.08 519.87,253.37 520.27,253.53 520.67,253.49 521.07,253.21 521.47,253.39 521.87,253.09 522.27,253.67 522.67,253.4 523.07,253.13 523.47,253.31 523.87,253.35 524.27,253.67 524.67,253.63 525.07,253.54 525.47,253.1 525.87,253.13 526.28,253.56 526.68,253.07 527.08,253.69 527.48,253.29 527.88,253.03 528.28,253.46 528.68,253.03 529.08,253.22 529.48,253.63 529.88,253.41 530.28,253.3 530.68,253.4 531.08,252.98 531.48,253.15 531.88,252.03 532.28,250.54 532.68,246.81 533.08,239.5 533.48,223.46 533.61,218.72 533.72,221.64 533.88,229.75 534.28,240.17 534.68,246.44 535.08,250.07 535.48,252.4 535.88,252.8 536.28,253.42 536.68,253.19 537.08,253.38 537.48,253.39 537.88,253.2 538.28,253.57 538.68,253.57 539.08,253.04 539.48,253.47 539.88,253.12 540.28,253.1 540.68,253.38 541.08,253.62 541.48,253.66 541.89,253.11 542.29,253.65 542.69,253.38 543.09,253.36 543.49,253.65 543.89,253.41 544.29,253.62 544.69,253.36 545.09,253.38 545.49,253.48 545.89,253.6 546.29,253.46 546.69,253.6 547.09,253.65 547.49,253.57 547.89,253.13 548.29,253.39 548.69,253.12 549.09,253.73 549.49,253.08 549.89,253.4 550.29,253.19 550.69,253.34 551.09,253.26 551.49,253.58 551.89,253.22 552.29,253.63 552.69,253.56 553.09,253.72 553.49,253.47 553.89,253.38 554.29,253.54 554.69,253.12 555.09,253.68 555.49,253.34 555.89,253.58 556.29,253.32 556.69,253.19 557.09,253.24 557.5,253.7 557.9,253.57 558.3,253.32 558.7,253.05 559.1,253.71 559.5,253.3 559.9,253.25 560.3,253.17 560.7,253.49 561.1,253.17 561.5,253.41 561.9,253.09 562.3,253.72 562.7,253.07 563.1,253.43 563.5,253.43 563.9,253.65 564.3,253.53 564.7,253.18 565.1,253.21 565.5,253.55 565.9,253.38 566.3,253.41 566.7,253.05 567.1,252.23 567.5,250.46 567.9,246.92 568.3,240.48 568.38,240.05 568.49,241.19 568.7,244.69 569.1,248.26 569.5,250.47 569.9,252.03 570.3,252.83 570.7,253.41 571.1,253.2 571.5,253.08 571.9,253.14 572.3,253.64 572.71,253.21 573.11,253.47 573.51,253.61 573.91,253.05 574.31,253.26 574.71,253.21 575.11,253.64 575.51,253.15 575.91,253.08 576.31,253.1 576.71,253.22 577.11,253.16 577.51,253.18 577.91,253.33 578.31,253.44 578.71,253.16 579.11,253.19 579.51,253.13 579.91,253.53 580.31,253.07 580.71,253.37 581.11,253.08 581.51,253.66 581.91,253.06 582.31,253.19 582.71,253.57 583.11,253.16 583.51,253.58 583.91,253.6 584.31,253.42 584.71,253.58 585.11,253.4 585.51,253.11 585.91,253.26 586.31,253.25 586.71,253.47 587.11,253.19 587.51,253.19 587.91,253.26 588.32,253.08 588.72,253.16 589.12,253.46 589.52,253.68 589.92,253.28 590.32,253.16 590.72,253.5 591.12,253.32 591.52,253.15 591.92,253.18 592.32,253.74 592.72,253.39 593.12,253.72 593.52,253.66 593.92,253.16 594.32,253.44 594.72,253.31 595.12,253.41 595.52,253.49 595.92,253.57 596.32,253.47 596.72,253.11 597.12,253.26 597.52,253.48 597.92,253.59 598.32,253.41 598.72,252.96 599.12,252.72 599.52,251.64 599.92,249.78 600.32,246.75 600.56,244.21 600.67,245.16 600.72,245.11 601.12,249.13 601.52,251.05 601.92,251.85 602.32,252.98 602.72,253.37 603.12,253.01 603.53,253.25 603.93,253.07 604.33,253.43 604.73,253.36 605.13,253.05 605.53,253.37 605.93,253.03 606.33,253.6 606.73,253.15 607.13,253.62 607.53,253.37 607.93,253.74 608.33,253.61 608.73,253.08 609.13,253.42 609.53,253.17 609.93,253.57 610.33,253.49 610.73,253.67 611.13,253.36 611.53,253.14 611.93,253.38 612.33,253.48 612.73,253.09 613.13,253.12 613.53,253.28 613.93,253.69 614.33,253.31 614.73,253.43 615.13,253.07 615.53,253.49 615.93,253.28 616.33,253.3 616.73,253.48 617.13,253.38 617.53,253.27 617.93,253.11 618.33,253.4 618.73,253.49 619.14,253.06 619.54,253.7 619.94,253.16 620.34,253.27 620.74,253.35 621.14,253.43 621.54,253.22 621.94,253.12 622.34,253.23 622.74,253.22 623.14,253.72 623.54,253.51 623.94,253.65 624.34,253.07 624.74,253.12 625.14,253.64 625.54,253.33 625.94,253.33 626.34,253.7 626.74,253.46 627.14,253.21 627.54,253.28 627.94,253.53 628.34,253.19 628.74,253.51 629.14,253.31 629.54,253.37 629.94,252.89 630.34,252.89 630.74,252.3 631.14,251.48 631.54,250 631.69,249.19 631.81,249.54 631.94,250.11 632.34,251.76 632.74,252.65 633.14,252.88 633.54,252.97 633.94,253.1 634.35,253.45 634.75,253.61 635.15,253.36 635.55,253.11 635.95,253.62 636.35,253.22 636.75,253.62 637.15,253.52 637.55,253.7 637.95,253.53 638.35,253.47 638.75,253.06 639.15,253.07 639.55,253.61 639.95,253.53 640.35,253.08 640.75,253.6 641.15,253.52 641.55,253.44 641.95,253.67 642.35,253.56 642.75,253.47 643.15,253.47 643.55,253.07 643.95,253.56 644.35,253.6 644.75,253.11 645.15,253.43 645.55,253.16 645.95,253.3 646.35,253.2 646.75,253.52 647.15,253.64 647.55,253.21 647.95,253.41 648.35,253.35 648.75,253.27 649.15,253.22 649.55,253.55 649.96,253.49 650.36,253.1 650.76,253.37 651.16,253.54 651.56,253.3 651.96,253.56 652.36,253.2 652.76,253.71 653.16,253.16 653.56,253.34 653.96,253.49 654.36,253.08 654.76,253.55 655.16,253.56 655.56,253.68 655.96,253.34 656.36,253.19 656.76,253.24 657.16,253.42 657.56,253.14 657.96,253.61 658.36,253.46 658.76,253.21 659.16,252.95 659.56,253.13 659.96,252.97 660.36,252.59 660.76,252.13 661.16,250.32 661.56,247.9 661.89,246.24 661.96,246.29 662,246.14 662.36,248.82 662.76,250.96 663.16,251.77 663.56,252.75 663.96,253.09 664.36,253.12 664.76,253.01 665.16,253.57 665.57,253.45 665.97,253.65 666.37,253.42 666.77,253.36" fill="none" stroke="#ff8a14" stroke-width="1.3" stroke-linejoin="round"/>
<path d="M444.33 253.4V112.75" stroke="#ff8a14" stroke-width="1.9"/>
<polygon points="387.2,280.05 387.6,280.18 388,280.24 388.4,280.36 388.8,280.24 389.2,280.45 389.6,280.05 390,280.09 390.4,280.06 390.8,280.54 391.2,280.17 391.6,280.11 392,280.29 392.4,280.01 392.8,280.01 393.2,280.12 393.6,280.07 394,280.19 394.4,280.03 394.8,280.55 395.2,280.15 395.6,280.15 396,280.21 396.4,280.45 396.8,280.59 397.2,280.22 397.6,280.06 398,280.45 398.4,280.49 398.8,280.48 399.2,280.57 399.6,280.16 400,279.95 400.4,280.07 400.8,280.38 401.2,280.15 401.6,280.58 402,280.05 402.41,280.41 402.81,280.63 403.21,280.19 403.61,280.53 404.01,280.44 404.41,280.59 404.81,280.32 405.21,280.24 405.61,280.06 406.01,280.6 406.41,280.05 406.81,280.55 407.21,280.47 407.61,280.18 408.01,280.38 408.41,280.39 408.81,280.22 409.21,280.47 409.61,280.06 410.01,280.47 410.41,280.03 410.81,280.05 411.21,280.24 411.61,280.59 412.01,280.06 412.41,280.59 412.81,280.25 413.21,280.3 413.61,280.55 414.01,280.15 414.41,280.08 414.81,280.18 415.21,280.3 415.61,280.22 416.01,280.16 416.41,280.41 416.81,279.95 417.21,279.85 417.61,279.98 418.02,279.86 418.42,280.29 418.82,279.82 419.22,280.45 419.62,280.15 420.02,280.37 420.42,280.12 420.82,279.93 421.22,279.88 421.62,280.02 422.02,280.05 422.42,280.09 422.82,279.86 423.22,279.83 423.62,279.75 424.02,279.17 424.42,279.03 424.82,278.62 425.22,278.04 425.62,276.33 426.02,273.8 426.42,265.89 426.82,229.84 427.14,130.56 427.22,146.07 427.62,251.45 428.02,269.59 428.42,274.71 428.82,276.95 429.22,278.02 429.62,279.09 430.02,279.37 430.42,279.76 430.82,279.34 431.22,279.57 431.62,279.73 432.02,280.06 432.42,280.06 432.82,280.24 433.23,279.95 433.63,279.73 434.03,280.23 434.43,280.44 434.83,280.36 435.23,280.25 435.63,279.88 436.03,279.96 436.43,280.22 436.83,280.47 437.23,280.48 437.63,280.45 438.03,280.02 438.43,280.24 438.83,279.88 439.23,279.94 439.63,280.03 440.03,280.26 440.43,280.02 440.83,280.51 441.23,280.52 441.63,280.21 442.03,280.25 442.43,280.46 442.83,280.43 443.23,280.59 443.63,279.97 444.03,280.11 444.43,279.95 444.83,279.93 445.23,280.31 445.63,280.1 446.03,280.35 446.43,280.05 446.83,280.03 447.23,280.52 447.63,280.61 448.03,280.47 448.43,280.2 448.84,280.35 449.24,280.61 449.64,280.03 450.04,280.06 450.44,280.28 450.84,280.56 451.24,279.96 451.64,280.19 452.04,280.49 452.44,280.26 452.84,279.96 453.24,279.56 453.64,279.39 453.96,278.99 454.04,279.31 454.44,279.76 454.84,279.65 455.24,280.17 455.64,280.44 456.04,280.14 456.44,280.49 456.84,280.45 457.24,280.28 457.64,280.2 458.04,280.17 458.44,280.12 458.84,280.31 459.24,280.58 459.64,280.12 460.04,280.59 460.44,280.3 460.84,280.35 461.24,280.16 461.64,280.13 462.04,280.46 462.44,280.18 462.84,280.15 463.24,280.3 463.64,280.53 464.04,280 464.45,280.21 464.85,280.59 465.25,280.46 465.65,279.94 466.05,280.47 466.45,280.36 466.85,280.08 467.25,280.05 467.65,280.18 468.05,280.11 468.45,280.6 468.85,280.56 469.25,279.94 469.65,280.06 470.05,280.59 470.45,280.58 470.85,280.44 471.25,279.96 471.65,280.45 472.05,280.12 472.45,279.93 472.85,280.12 473.25,279.91 473.65,280.34 474.05,280.37 474.45,280.33 474.85,279.41 475.25,278.73 475.65,275.61 476.05,271.25 476.45,261.62 476.66,254.69 476.77,257.4 476.85,260.35 477.25,269.81 477.65,274.01 478.05,277.15 478.45,278.87 478.85,280.21 479.25,279.85 479.66,280.13 480.06,279.98 480.46,280.22 480.86,280.15 481.26,280.18 481.66,280.04 482.06,280.55 482.46,280.58 482.86,280.24 483.26,280.42 483.66,280.35 484.06,280.62 484.46,280.11 484.86,280.61 485.26,280.05 485.66,280.06 486.06,280.31 486.46,280.55 486.86,280.18 487.26,280.49 487.66,280.34 488.06,280.56 488.46,279.95 488.86,280.26 489.26,280.39 489.66,280.57 490.06,280.13 490.46,280.04 490.86,280.05 491.26,280.57 491.66,280.38 492.06,280.43 492.46,280.11 492.86,280.54 493.26,280.22 493.66,279.96 494.06,280.1 494.46,280.64 494.86,280.59 495.27,280.56 495.67,280.16 496.07,280.22 496.47,280.28 496.87,280.32 497.27,280.36 497.67,280.21 498.07,280.19 498.47,280 498.87,280.13 499.27,280.08 499.67,280 500.07,280.05 500.47,280.14 500.87,280.62 501.27,280.16 501.67,280.04 502.07,280.34 502.47,280.02 502.87,280.51 503.27,279.98 503.67,280.33 504.07,280.14 504.47,280.46 504.87,280.43 505.27,280.39 505.67,280.41 506.07,280.57 506.47,280.32 506.87,279.95 507.27,280.17 507.67,279.98 508.07,280.09 508.47,280.04 508.87,279.93 509.27,280.1 509.67,280.43 510.07,280.44 510.48,280.32 510.88,280.59 511.28,280.44 511.68,279.97 512.08,279.94 512.48,280.34 512.88,280.02 513.28,280 513.68,279.89 514.08,279.91 514.48,280.01 514.88,280.06 515.28,278.81 515.68,277.19 516.08,272.84 516.48,265.63 516.88,248.06 516.98,244.63 517.09,248.34 517.28,257.26 517.68,267.11 518.08,273.15 518.48,276.79 518.88,279.13 519.28,279.53 519.68,279.93 520.08,279.81 520.48,280.47 520.88,280.4 521.28,280.37 521.68,279.95 522.08,280.58 522.48,280.42 522.88,280.1 523.28,279.92 523.68,280.49 524.08,280.31 524.48,280.14 524.88,280.14 525.28,280.1 525.68,280.1 526.09,280.46 526.49,280.45 526.89,280.61 527.29,280.15 527.69,280.49 528.09,280.45 528.49,279.96 528.89,280.19 529.29,280.22 529.69,280.18 530.09,280.22 530.49,280.15 530.89,280.43 531.29,280.59 531.69,280.59 532.09,280.63 532.49,280.39 532.89,280.54 533.29,280.56 533.69,280.3 534.09,279.96 534.49,280.16 534.89,280.45 535.29,280.1 535.69,280.52 536.09,280.57 536.49,280.43 536.89,280.36 537.29,280.16 537.69,280.33 538.09,280.13 538.49,280.58 538.89,279.99 539.29,280.4 539.69,280.06 540.09,280.62 540.49,280.06 540.89,280.48 541.29,280.04 541.7,280.08 542.1,280.17 542.5,280.44 542.9,280.63 543.3,280.5 543.7,280 544.1,280.52 544.5,280.17 544.9,280.22 545.3,280.17 545.7,280.5 546.1,280.53 546.5,280.55 546.9,279.93 547.3,280.34 547.7,280.15 548.1,280.2 548.5,280.43 548.9,280.51 549.3,280.49 549.7,279.75 550.1,279.82 550.5,278.22 550.9,276.7 551.3,272.61 551.6,268.9 551.7,269.1 551.71,269.64 552.1,274.44 552.5,276.88 552.9,278.88 553.3,279.76 553.7,279.81 554.1,280.32 554.5,280.3 554.9,280.05 555.3,280.44 555.7,280.47 556.1,280.46 556.5,280.35 556.91,280.37 557.31,280.18 557.71,280.3 558.11,280.02 558.51,280.6 558.91,280.17 559.31,280.05 559.71,280.47 560.11,280.62 560.51,280.33 560.91,280.56 561.31,280.32 561.71,280.14 562.11,280.58 562.51,280.56 562.91,280.31 563.31,280.52 563.71,280.48 564.11,280.33 564.51,280.56 564.91,280.6 565.31,280.39 565.71,280.32 566.11,279.99 566.51,280.26 566.91,280.59 567.31,280.49 567.71,280.12 568.11,280.25 568.51,280.03 568.91,279.97 569.31,280.04 569.71,280.57 570.11,279.98 570.51,280.28 570.91,280.48 571.31,280.52 571.71,280.04 572.11,280.49 572.52,280.58 572.92,280.46 573.32,280 573.72,280.32 574.12,280.13 574.52,280.59 574.92,280.32 575.32,280.42 575.72,280.5 576.12,280.17 576.52,280.38 576.92,280.55 577.32,279.95 577.72,280.3 578.12,280.51 578.52,280.62 578.92,280.17 579.32,280.26 579.72,280.6 580.12,280.28 580.52,280.08 580.92,280.21 581.32,280.39 581.72,280.12 582.12,279.81 582.52,279.17 582.92,278.28 583.32,275.52 583.72,270.73 583.79,270.57 583.9,271.16 584.12,274.18 584.52,276.49 584.92,278.64 585.32,279.65 585.72,279.9 586.12,279.88 586.52,280.51 586.92,280.44 587.32,280.58 587.73,280.31 588.13,280.52 588.53,280.49 588.93,280.1 589.33,280.22 589.73,279.98 590.13,280.35 590.53,280.16 590.93,280.63 591.33,279.98 591.73,280.48 592.13,280.31 592.53,280.28 592.93,279.98 593.33,280.3 593.73,279.95 594.13,280.21 594.53,280.49 594.93,280.06 595.33,280.5 595.73,279.94 596.13,280.32 596.53,280.49 596.93,279.97 597.33,280.42 597.73,280.36 598.13,280.4 598.53,280.18 598.93,280.63 599.33,280.38 599.73,280.53 600.13,280.07 600.53,280.65 600.93,280.22 601.33,280.46 601.73,280.33 602.13,280.25 602.53,280.15 602.93,280.55 603.34,280.48 603.74,280.56 604.14,279.97 604.54,280.54 604.94,280.55 605.34,280.28 605.74,280.24 606.14,280.02 606.54,280.6 606.94,280.48 607.34,280.53 607.74,280.23 608.14,280.32 608.54,280.35 608.94,280.02 609.34,280.17 609.74,280.03 610.14,279.96 610.54,280.44 610.94,279.97 611.34,280.34 611.74,280.58 612.14,279.97 612.54,280.51 612.94,280.52 613.34,280.2 613.74,279.88 614.14,278.77 614.54,277.65 614.88,276.77 614.94,276.74 614.99,276.63 615.34,277.93 615.74,278.97 616.14,279.67 616.54,280.29 616.94,280.36 617.34,280.13 617.74,280.2 618.14,280.06 618.54,280 618.95,279.96 619.35,280.5 619.75,280.58 620.15,280.01 620.55,280.24 620.95,280.51 621.35,280.16 621.75,280.46 622.15,280.48 622.55,280.39 622.95,280.28 623.35,280.17 623.75,280.59 624.15,280.12 624.55,280.21 624.95,280.31 625.35,280.17 625.75,280.08 626.15,280.64 626.55,280.31 626.95,280.17 627.35,280.15 627.75,280.19 628.15,280.52 628.55,279.97 628.95,280.09 629.35,280.48 629.75,280.34 630.15,279.97 630.55,280.5 630.95,280.36 631.35,279.97 631.75,280.01 632.15,280.48 632.55,280.13 632.95,280.39 633.35,280.18 633.75,280.1 634.16,280.55 634.56,280.48 634.96,280.49 635.36,280.45 635.76,280.61 636.16,280.54 636.56,280.35 636.96,280.34 637.36,280.58 637.76,280.22 638.16,279.97 638.56,280.22 638.96,280.37 639.36,280.12 639.76,280.31 640.16,280.48 640.56,280.26 640.96,280.57 641.36,280.1 641.76,280.43 642.16,280.25 642.56,279.75 642.96,279.69 643.36,279.15 643.76,278.24 644.16,276.3 644.56,273.21 644.7,272.51 644.81,273.28 644.96,273.8 645.36,276.72 645.76,278.44 646.16,279.09 646.56,279.78 646.96,279.83 647.36,279.9 647.76,280.14 648.16,280.44 648.56,280.58 648.96,280.23 649.36,280.1 649.77,280.42 649.77,280.3 387.2,280.3" fill="#138a13" stroke="none"/>
<polyline points="387.2,280.05 387.6,280.18 388,280.24 388.4,280.36 388.8,280.24 389.2,280.45 389.6,280.05 390,280.09 390.4,280.06 390.8,280.54 391.2,280.17 391.6,280.11 392,280.29 392.4,280.01 392.8,280.01 393.2,280.12 393.6,280.07 394,280.19 394.4,280.03 394.8,280.55 395.2,280.15 395.6,280.15 396,280.21 396.4,280.45 396.8,280.59 397.2,280.22 397.6,280.06 398,280.45 398.4,280.49 398.8,280.48 399.2,280.57 399.6,280.16 400,279.95 400.4,280.07 400.8,280.38 401.2,280.15 401.6,280.58 402,280.05 402.41,280.41 402.81,280.63 403.21,280.19 403.61,280.53 404.01,280.44 404.41,280.59 404.81,280.32 405.21,280.24 405.61,280.06 406.01,280.6 406.41,280.05 406.81,280.55 407.21,280.47 407.61,280.18 408.01,280.38 408.41,280.39 408.81,280.22 409.21,280.47 409.61,280.06 410.01,280.47 410.41,280.03 410.81,280.05 411.21,280.24 411.61,280.59 412.01,280.06 412.41,280.59 412.81,280.25 413.21,280.3 413.61,280.55 414.01,280.15 414.41,280.08 414.81,280.18 415.21,280.3 415.61,280.22 416.01,280.16 416.41,280.41 416.81,279.95 417.21,279.85 417.61,279.98 418.02,279.86 418.42,280.29 418.82,279.82 419.22,280.45 419.62,280.15 420.02,280.37 420.42,280.12 420.82,279.93 421.22,279.88 421.62,280.02 422.02,280.05 422.42,280.09 422.82,279.86 423.22,279.83 423.62,279.75 424.02,279.17 424.42,279.03 424.82,278.62 425.22,278.04 425.62,276.33 426.02,273.8 426.42,265.89 426.82,229.84 427.14,130.56 427.22,146.07 427.62,251.45 428.02,269.59 428.42,274.71 428.82,276.95 429.22,278.02 429.62,279.09 430.02,279.37 430.42,279.76 430.82,279.34 431.22,279.57 431.62,279.73 432.02,280.06 432.42,280.06 432.82,280.24 433.23,279.95 433.63,279.73 434.03,280.23 434.43,280.44 434.83,280.36 435.23,280.25 435.63,279.88 436.03,279.96 436.43,280.22 436.83,280.47 437.23,280.48 437.63,280.45 438.03,280.02 438.43,280.24 438.83,279.88 439.23,279.94 439.63,280.03 440.03,280.26 440.43,280.02 440.83,280.51 441.23,280.52 441.63,280.21 442.03,280.25 442.43,280.46 442.83,280.43 443.23,280.59 443.63,279.97 444.03,280.11 444.43,279.95 444.83,279.93 445.23,280.31 445.63,280.1 446.03,280.35 446.43,280.05 446.83,280.03 447.23,280.52 447.63,280.61 448.03,280.47 448.43,280.2 448.84,280.35 449.24,280.61 449.64,280.03 450.04,280.06 450.44,280.28 450.84,280.56 451.24,279.96 451.64,280.19 452.04,280.49 452.44,280.26 452.84,279.96 453.24,279.56 453.64,279.39 453.96,278.99 454.04,279.31 454.44,279.76 454.84,279.65 455.24,280.17 455.64,280.44 456.04,280.14 456.44,280.49 456.84,280.45 457.24,280.28 457.64,280.2 458.04,280.17 458.44,280.12 458.84,280.31 459.24,280.58 459.64,280.12 460.04,280.59 460.44,280.3 460.84,280.35 461.24,280.16 461.64,280.13 462.04,280.46 462.44,280.18 462.84,280.15 463.24,280.3 463.64,280.53 464.04,280 464.45,280.21 464.85,280.59 465.25,280.46 465.65,279.94 466.05,280.47 466.45,280.36 466.85,280.08 467.25,280.05 467.65,280.18 468.05,280.11 468.45,280.6 468.85,280.56 469.25,279.94 469.65,280.06 470.05,280.59 470.45,280.58 470.85,280.44 471.25,279.96 471.65,280.45 472.05,280.12 472.45,279.93 472.85,280.12 473.25,279.91 473.65,280.34 474.05,280.37 474.45,280.33 474.85,279.41 475.25,278.73 475.65,275.61 476.05,271.25 476.45,261.62 476.66,254.69 476.77,257.4 476.85,260.35 477.25,269.81 477.65,274.01 478.05,277.15 478.45,278.87 478.85,280.21 479.25,279.85 479.66,280.13 480.06,279.98 480.46,280.22 480.86,280.15 481.26,280.18 481.66,280.04 482.06,280.55 482.46,280.58 482.86,280.24 483.26,280.42 483.66,280.35 484.06,280.62 484.46,280.11 484.86,280.61 485.26,280.05 485.66,280.06 486.06,280.31 486.46,280.55 486.86,280.18 487.26,280.49 487.66,280.34 488.06,280.56 488.46,279.95 488.86,280.26 489.26,280.39 489.66,280.57 490.06,280.13 490.46,280.04 490.86,280.05 491.26,280.57 491.66,280.38 492.06,280.43 492.46,280.11 492.86,280.54 493.26,280.22 493.66,279.96 494.06,280.1 494.46,280.64 494.86,280.59 495.27,280.56 495.67,280.16 496.07,280.22 496.47,280.28 496.87,280.32 497.27,280.36 497.67,280.21 498.07,280.19 498.47,280 498.87,280.13 499.27,280.08 499.67,280 500.07,280.05 500.47,280.14 500.87,280.62 501.27,280.16 501.67,280.04 502.07,280.34 502.47,280.02 502.87,280.51 503.27,279.98 503.67,280.33 504.07,280.14 504.47,280.46 504.87,280.43 505.27,280.39 505.67,280.41 506.07,280.57 506.47,280.32 506.87,279.95 507.27,280.17 507.67,279.98 508.07,280.09 508.47,280.04 508.87,279.93 509.27,280.1 509.67,280.43 510.07,280.44 510.48,280.32 510.88,280.59 511.28,280.44 511.68,279.97 512.08,279.94 512.48,280.34 512.88,280.02 513.28,280 513.68,279.89 514.08,279.91 514.48,280.01 514.88,280.06 515.28,278.81 515.68,277.19 516.08,272.84 516.48,265.63 516.88,248.06 516.98,244.63 517.09,248.34 517.28,257.26 517.68,267.11 518.08,273.15 518.48,276.79 518.88,279.13 519.28,279.53 519.68,279.93 520.08,279.81 520.48,280.47 520.88,280.4 521.28,280.37 521.68,279.95 522.08,280.58 522.48,280.42 522.88,280.1 523.28,279.92 523.68,280.49 524.08,280.31 524.48,280.14 524.88,280.14 525.28,280.1 525.68,280.1 526.09,280.46 526.49,280.45 526.89,280.61 527.29,280.15 527.69,280.49 528.09,280.45 528.49,279.96 528.89,280.19 529.29,280.22 529.69,280.18 530.09,280.22 530.49,280.15 530.89,280.43 531.29,280.59 531.69,280.59 532.09,280.63 532.49,280.39 532.89,280.54 533.29,280.56 533.69,280.3 534.09,279.96 534.49,280.16 534.89,280.45 535.29,280.1 535.69,280.52 536.09,280.57 536.49,280.43 536.89,280.36 537.29,280.16 537.69,280.33 538.09,280.13 538.49,280.58 538.89,279.99 539.29,280.4 539.69,280.06 540.09,280.62 540.49,280.06 540.89,280.48 541.29,280.04 541.7,280.08 542.1,280.17 542.5,280.44 542.9,280.63 543.3,280.5 543.7,280 544.1,280.52 544.5,280.17 544.9,280.22 545.3,280.17 545.7,280.5 546.1,280.53 546.5,280.55 546.9,279.93 547.3,280.34 547.7,280.15 548.1,280.2 548.5,280.43 548.9,280.51 549.3,280.49 549.7,279.75 550.1,279.82 550.5,278.22 550.9,276.7 551.3,272.61 551.6,268.9 551.7,269.1 551.71,269.64 552.1,274.44 552.5,276.88 552.9,278.88 553.3,279.76 553.7,279.81 554.1,280.32 554.5,280.3 554.9,280.05 555.3,280.44 555.7,280.47 556.1,280.46 556.5,280.35 556.91,280.37 557.31,280.18 557.71,280.3 558.11,280.02 558.51,280.6 558.91,280.17 559.31,280.05 559.71,280.47 560.11,280.62 560.51,280.33 560.91,280.56 561.31,280.32 561.71,280.14 562.11,280.58 562.51,280.56 562.91,280.31 563.31,280.52 563.71,280.48 564.11,280.33 564.51,280.56 564.91,280.6 565.31,280.39 565.71,280.32 566.11,279.99 566.51,280.26 566.91,280.59 567.31,280.49 567.71,280.12 568.11,280.25 568.51,280.03 568.91,279.97 569.31,280.04 569.71,280.57 570.11,279.98 570.51,280.28 570.91,280.48 571.31,280.52 571.71,280.04 572.11,280.49 572.52,280.58 572.92,280.46 573.32,280 573.72,280.32 574.12,280.13 574.52,280.59 574.92,280.32 575.32,280.42 575.72,280.5 576.12,280.17 576.52,280.38 576.92,280.55 577.32,279.95 577.72,280.3 578.12,280.51 578.52,280.62 578.92,280.17 579.32,280.26 579.72,280.6 580.12,280.28 580.52,280.08 580.92,280.21 581.32,280.39 581.72,280.12 582.12,279.81 582.52,279.17 582.92,278.28 583.32,275.52 583.72,270.73 583.79,270.57 583.9,271.16 584.12,274.18 584.52,276.49 584.92,278.64 585.32,279.65 585.72,279.9 586.12,279.88 586.52,280.51 586.92,280.44 587.32,280.58 587.73,280.31 588.13,280.52 588.53,280.49 588.93,280.1 589.33,280.22 589.73,279.98 590.13,280.35 590.53,280.16 590.93,280.63 591.33,279.98 591.73,280.48 592.13,280.31 592.53,280.28 592.93,279.98 593.33,280.3 593.73,279.95 594.13,280.21 594.53,280.49 594.93,280.06 595.33,280.5 595.73,279.94 596.13,280.32 596.53,280.49 596.93,279.97 597.33,280.42 597.73,280.36 598.13,280.4 598.53,280.18 598.93,280.63 599.33,280.38 599.73,280.53 600.13,280.07 600.53,280.65 600.93,280.22 601.33,280.46 601.73,280.33 602.13,280.25 602.53,280.15 602.93,280.55 603.34,280.48 603.74,280.56 604.14,279.97 604.54,280.54 604.94,280.55 605.34,280.28 605.74,280.24 606.14,280.02 606.54,280.6 606.94,280.48 607.34,280.53 607.74,280.23 608.14,280.32 608.54,280.35 608.94,280.02 609.34,280.17 609.74,280.03 610.14,279.96 610.54,280.44 610.94,279.97 611.34,280.34 611.74,280.58 612.14,279.97 612.54,280.51 612.94,280.52 613.34,280.2 613.74,279.88 614.14,278.77 614.54,277.65 614.88,276.77 614.94,276.74 614.99,276.63 615.34,277.93 615.74,278.97 616.14,279.67 616.54,280.29 616.94,280.36 617.34,280.13 617.74,280.2 618.14,280.06 618.54,280 618.95,279.96 619.35,280.5 619.75,280.58 620.15,280.01 620.55,280.24 620.95,280.51 621.35,280.16 621.75,280.46 622.15,280.48 622.55,280.39 622.95,280.28 623.35,280.17 623.75,280.59 624.15,280.12 624.55,280.21 624.95,280.31 625.35,280.17 625.75,280.08 626.15,280.64 626.55,280.31 626.95,280.17 627.35,280.15 627.75,280.19 628.15,280.52 628.55,279.97 628.95,280.09 629.35,280.48 629.75,280.34 630.15,279.97 630.55,280.5 630.95,280.36 631.35,279.97 631.75,280.01 632.15,280.48 632.55,280.13 632.95,280.39 633.35,280.18 633.75,280.1 634.16,280.55 634.56,280.48 634.96,280.49 635.36,280.45 635.76,280.61 636.16,280.54 636.56,280.35 636.96,280.34 637.36,280.58 637.76,280.22 638.16,279.97 638.56,280.22 638.96,280.37 639.36,280.12 639.76,280.31 640.16,280.48 640.56,280.26 640.96,280.57 641.36,280.1 641.76,280.43 642.16,280.25 642.56,279.75 642.96,279.69 643.36,279.15 643.76,278.24 644.16,276.3 644.56,273.21 644.7,272.51 644.81,273.28 644.96,273.8 645.36,276.72 645.76,278.44 646.16,279.09 646.56,279.78 646.96,279.83 647.36,279.9 647.76,280.14 648.16,280.44 648.56,280.58 648.96,280.23 649.36,280.1 649.77,280.42" fill="none" stroke="#138a13" stroke-width="1.3" stroke-linejoin="round"/>
<path d="M427.14 280.3V135.19" stroke="#138a13" stroke-width="1.9"/>
<path d="M378.6 293.9V144L463.29 10.0H725.86V159.9L641.17 293.9" stroke="#2e2e2e" stroke-width="1.4" fill="none" stroke-linejoin="miter"/>
<path d="M378.6 293.9H641.17" stroke="#222" stroke-width="1.7" fill="none"/>
<path d="M378.6 293.9V289.9M386.1 293.9V291.9M393.6 293.9V291.9M401.11 293.9V291.9M408.61 293.9V291.9M416.11 293.9V289.9M423.61 293.9V291.9M431.11 293.9V291.9M438.62 293.9V291.9M446.12 293.9V291.9M453.62 293.9V289.9M461.12 293.9V291.9M468.62 293.9V291.9M476.13 293.9V291.9M483.63 293.9V291.9M491.13 293.9V289.9M498.63 293.9V291.9M506.13 293.9V291.9M513.64 293.9V291.9M521.14 293.9V291.9M528.64 293.9V289.9M536.14 293.9V291.9M543.64 293.9V291.9M551.15 293.9V291.9M558.65 293.9V291.9M566.15 293.9V289.9M573.65 293.9V291.9M581.15 293.9V291.9M588.66 293.9V291.9M596.16 293.9V291.9M603.66 293.9V289.9M611.16 293.9V291.9M618.66 293.9V291.9M626.17 293.9V291.9M633.67 293.9V291.9M641.17 293.9V289.9" stroke="#222" stroke-width="1.1"/>
<text x="378.9" y="306.3" font-family="Liberation Serif" font-size="10.2" font-weight="bold" fill="#222" text-anchor="middle" textLength="8.3" lengthAdjust="spacingAndGlyphs" stroke="#222" stroke-width="0.3">20</text>
<text x="416.41" y="306.3" font-family="Liberation Serif" font-size="10.2" font-weight="bold" fill="#222" text-anchor="middle" textLength="8.3" lengthAdjust="spacingAndGlyphs" stroke="#222" stroke-width="0.3">30</text>
<text x="453.92" y="306.3" font-family="Liberation Serif" font-size="10.2" font-weight="bold" fill="#222" text-anchor="middle" textLength="8.3" lengthAdjust="spacingAndGlyphs" stroke="#222" stroke-width="0.3">40</text>
<text x="491.43" y="306.3" font-family="Liberation Serif" font-size="10.2" font-weight="bold" fill="#222" text-anchor="middle" textLength="8.3" lengthAdjust="spacingAndGlyphs" stroke="#222" stroke-width="0.3">50</text>
<text x="528.94" y="306.3" font-family="Liberation Serif" font-size="10.2" font-weight="bold" fill="#222" text-anchor="middle" textLength="8.3" lengthAdjust="spacingAndGlyphs" stroke="#222" stroke-width="0.3">60</text>
<text x="566.45" y="306.3" font-family="Liberation Serif" font-size="10.2" font-weight="bold" fill="#222" text-anchor="middle" textLength="8.3" lengthAdjust="spacingAndGlyphs" stroke="#222" stroke-width="0.3">70</text>
<text x="603.96" y="306.3" font-family="Liberation Serif" font-size="10.2" font-weight="bold" fill="#222" text-anchor="middle" textLength="8.3" lengthAdjust="spacingAndGlyphs" stroke="#222" stroke-width="0.3">80</text>
<text x="641.47" y="306.3" font-family="Liberation Serif" font-size="10.2" font-weight="bold" fill="#222" text-anchor="middle" textLength="8.3" lengthAdjust="spacingAndGlyphs" stroke="#222" stroke-width="0.3">90</text>
<text x="488.3" y="319" font-family="Liberation Sans" font-size="11.2" font-weight="bold" fill="#222" text-anchor="start" textLength="43.2" lengthAdjust="spacingAndGlyphs">2 Theta (θ)</text>
<text x="546.8" y="342" font-family="Liberation Serif" font-size="18.5" fill="#111" textLength="22.6" lengthAdjust="spacingAndGlyphs">(<tspan font-weight="bold">b</tspan>)</text>
<text x="720.8" y="180.7" font-family="Liberation Sans" font-size="10.8" font-weight="bold" fill="#1e1e1e" text-anchor="start" textLength="9.1" lengthAdjust="spacingAndGlyphs" stroke="#1e1e1e" stroke-width="0.3">25</text>
<circle cx="734.2" cy="176.1" r="0.9" fill="none" stroke="#9a9a9a" stroke-width="0.8"/>
<text x="736" y="180.7" font-family="Liberation Sans" font-size="10.8" font-weight="bold" fill="#1e1e1e" text-anchor="start" textLength="6.4" lengthAdjust="spacingAndGlyphs" stroke="#1e1e1e" stroke-width="0.3">C</text>
<text x="706.7" y="205.5" font-family="Liberation Sans" font-size="10.8" font-weight="bold" fill="#1e1e1e" text-anchor="start" textLength="14" lengthAdjust="spacingAndGlyphs" stroke="#1e1e1e" stroke-width="0.3">150</text>
<circle cx="725" cy="200.9" r="0.9" fill="none" stroke="#9a9a9a" stroke-width="0.8"/>
<text x="726.8" y="205.5" font-family="Liberation Sans" font-size="10.8" font-weight="bold" fill="#1e1e1e" text-anchor="start" textLength="6.4" lengthAdjust="spacingAndGlyphs" stroke="#1e1e1e" stroke-width="0.3">C</text>
<text x="689.7" y="232.6" font-family="Liberation Sans" font-size="10.8" font-weight="bold" fill="#1e1e1e" text-anchor="start" textLength="14" lengthAdjust="spacingAndGlyphs" stroke="#1e1e1e" stroke-width="0.3">160</text>
<circle cx="708" cy="228" r="0.9" fill="none" stroke="#9a9a9a" stroke-width="0.8"/>
<text x="709.8" y="232.6" font-family="Liberation Sans" font-size="10.8" font-weight="bold" fill="#1e1e1e" text-anchor="start" textLength="6.4" lengthAdjust="spacingAndGlyphs" stroke="#1e1e1e" stroke-width="0.3">C</text>
<text x="673.9" y="259.2" font-family="Liberation Sans" font-size="10.8" font-weight="bold" fill="#1e1e1e" text-anchor="start" textLength="14" lengthAdjust="spacingAndGlyphs" stroke="#1e1e1e" stroke-width="0.3">170</text>
<circle cx="692.2" cy="254.6" r="0.9" fill="none" stroke="#9a9a9a" stroke-width="0.8"/>
<text x="694" y="259.2" font-family="Liberation Sans" font-size="10.8" font-weight="bold" fill="#1e1e1e" text-anchor="start" textLength="6.4" lengthAdjust="spacingAndGlyphs" stroke="#1e1e1e" stroke-width="0.3">C</text>
<text x="655.4" y="287.8" font-family="Liberation Sans" font-size="10.8" font-weight="bold" fill="#1e1e1e" text-anchor="start" textLength="14" lengthAdjust="spacingAndGlyphs" stroke="#1e1e1e" stroke-width="0.3">185</text>
<circle cx="673.7" cy="283.2" r="0.9" fill="none" stroke="#9a9a9a" stroke-width="0.8"/>
<text x="675.5" y="287.8" font-family="Liberation Sans" font-size="10.8" font-weight="bold" fill="#1e1e1e" text-anchor="start" textLength="6.4" lengthAdjust="spacingAndGlyphs" stroke="#1e1e1e" stroke-width="0.3">C</text>
<text transform="translate(491.24 80) rotate(-90)" font-family="Liberation Sans" font-size="8.6" font-weight="normal" fill="#3a3a3a" stroke="#3a3a3a" stroke-width="0.1" textLength="23.8" lengthAdjust="spacingAndGlyphs">(040)</text>
<text transform="translate(490.44 150) rotate(-90)" font-family="Liberation Sans" font-size="8.6" font-weight="normal" fill="#3a3a3a" stroke="#3a3a3a" stroke-width="0.1" textLength="49.5" lengthAdjust="spacingAndGlyphs">(5/4 1/4 0)</text>
<text transform="translate(505.04 157) rotate(-90)" font-family="Liberation Sans" font-size="8.6" font-weight="normal" fill="#3a3a3a" stroke="#3a3a3a" stroke-width="0.1" textLength="51.1" lengthAdjust="spacingAndGlyphs">(5/4 -3/4 0)</text>
<text transform="translate(523.94 159.2) rotate(-90)" font-family="Liberation Sans" font-size="8.6" font-weight="normal" fill="#3a3a3a" stroke="#3a3a3a" stroke-width="0.1" textLength="29.8" lengthAdjust="spacingAndGlyphs">(0 4 2)</text>
<text transform="translate(532.24 159.4) rotate(-90)" font-family="Liberation Sans" font-size="8.6" font-weight="normal" fill="#3a3a3a" stroke="#3a3a3a" stroke-width="0.1" textLength="52.4" lengthAdjust="spacingAndGlyphs">(5/4 -3/4 0)</text>
<text transform="translate(548.64 135.9) rotate(-90)" font-family="Liberation Sans" font-size="8.6" font-weight="normal" fill="#3a3a3a" stroke="#3a3a3a" stroke-width="0.1" textLength="53.1" lengthAdjust="spacingAndGlyphs">(240)/(004)</text>
<text transform="translate(562.34 158) rotate(-90)" font-family="Liberation Sans" font-size="8.6" font-weight="normal" fill="#3a3a3a" stroke="#3a3a3a" stroke-width="0.1" textLength="48" lengthAdjust="spacingAndGlyphs">(3/4 -1/4 2)</text>
<text transform="translate(586.74 134.8) rotate(-90)" font-family="Liberation Sans" font-size="8.6" font-weight="normal" fill="#3a3a3a" stroke="#3a3a3a" stroke-width="0.1" textLength="49.2" lengthAdjust="spacingAndGlyphs">(044)/(204)</text>
<text transform="translate(622.54 150.1) rotate(-90)" font-family="Liberation Sans" font-size="8.6" font-weight="normal" fill="#3a3a3a" stroke="#3a3a3a" stroke-width="0.1" textLength="53.1" lengthAdjust="spacingAndGlyphs">(400)/(244)</text>
<path d="M493.3 47.45L497.7 47.45L495.5 52.95Z" fill="none" stroke="#4a4ab8" stroke-width="0.9"/>
<path d="M518.5 160.55L522.9 160.55L520.7 166.05Z" fill="none" stroke="#4a4ab8" stroke-width="0.9"/>
<path d="M543.4 144.25L547.8 144.25L545.6 149.75Z" fill="none" stroke="#4a4ab8" stroke-width="0.9"/>
<path d="M581.4 136.95L585.8 136.95L583.6 142.45Z" fill="none" stroke="#4a4ab8" stroke-width="0.9"/>
<path d="M618 152.45L622.4 152.45L620.2 157.95Z" fill="none" stroke="#4a4ab8" stroke-width="0.9"/>
<g fill="#7e1e92"><circle cx="484.3" cy="160.1" r="1.3"/><circle cx="483.05" cy="161.8" r="1.3"/><circle cx="485.55" cy="161.8" r="1.3"/><path d="M483.8 161.2L484.8 161.2L485.4 163.7L483.2 163.7Z"/></g>
<g fill="#7e1e92"><circle cx="499" cy="161.9" r="1.3"/><circle cx="497.75" cy="163.6" r="1.3"/><circle cx="500.25" cy="163.6" r="1.3"/><path d="M498.5 163L499.5 163L500.1 165.5L497.9 165.5Z"/></g>
<g fill="#7e1e92"><circle cx="525.3" cy="164.7" r="1.3"/><circle cx="524.05" cy="166.4" r="1.3"/><circle cx="526.55" cy="166.4" r="1.3"/><path d="M524.8 165.8L525.8 165.8L526.4 168.3L524.2 168.3Z"/></g>
<g fill="#7e1e92"><circle cx="557.5" cy="164.2" r="1.3"/><circle cx="556.25" cy="165.9" r="1.3"/><circle cx="558.75" cy="165.9" r="1.3"/><path d="M557 165.3L558 165.3L558.6 167.8L556.4 167.8Z"/></g>
<g fill="#7e1e92"><circle cx="576.9" cy="163.7" r="1.3"/><circle cx="575.65" cy="165.4" r="1.3"/><circle cx="578.15" cy="165.4" r="1.3"/><path d="M576.4 164.8L577.4 164.8L578 167.3L575.8 167.3Z"/></g></svg>
</body></html>
